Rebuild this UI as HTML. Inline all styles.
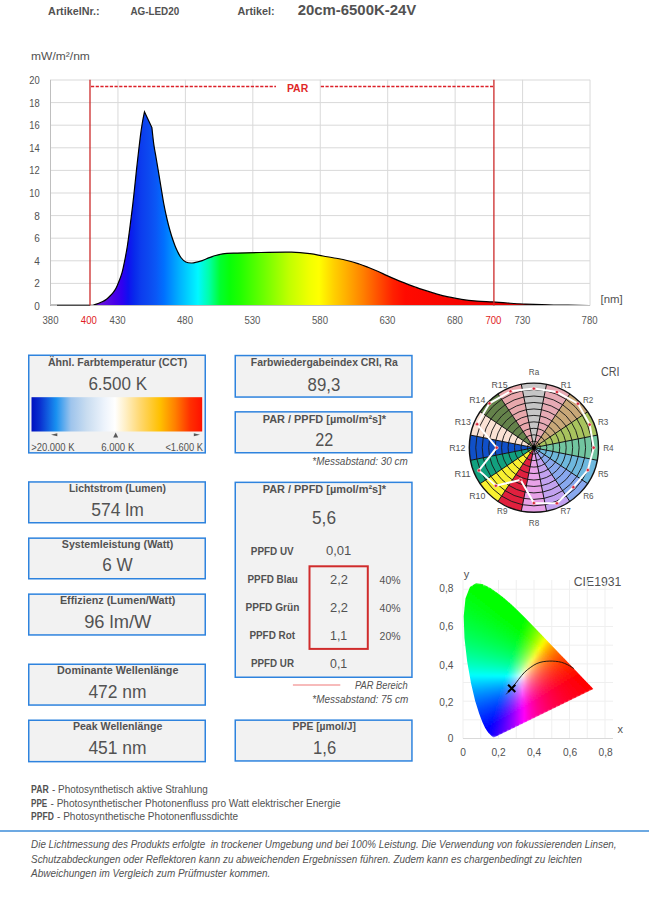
<!DOCTYPE html>
<html><head><meta charset="utf-8">
<style>
html,body{margin:0;padding:0;background:#fff;width:650px;height:898px;overflow:hidden}
body{position:relative;font-family:"Liberation Sans",sans-serif;color:#595959}
svg{position:absolute;left:0;top:0}
svg text{font-family:"Liberation Sans",sans-serif;fill:#525252}
.b{font-weight:bold}
.c{text-anchor:middle}
.r{text-anchor:end}
.i{font-style:italic}
</style></head><body>
<svg width="650" height="898" viewBox="0 0 650 898">
<defs>
<linearGradient id="spec" gradientUnits="userSpaceOnUse" x1="50.5" y1="0" x2="590" y2="0"><stop offset="0.0732" stop-color="#7a10c8"/><stop offset="0.0992" stop-color="#6010e0"/><stop offset="0.1177" stop-color="#4a00e8"/><stop offset="0.1325" stop-color="#3000f0"/><stop offset="0.1437" stop-color="#1010f0"/><stop offset="0.1548" stop-color="#0828ec"/><stop offset="0.1677" stop-color="#0c3cee"/><stop offset="0.1807" stop-color="#0c48f0"/><stop offset="0.1956" stop-color="#0a58f6"/><stop offset="0.2104" stop-color="#0070ff"/><stop offset="0.2382" stop-color="#00b0ff"/><stop offset="0.2734" stop-color="#00f8ff"/><stop offset="0.2938" stop-color="#00ffa8"/><stop offset="0.3142" stop-color="#00ff30"/><stop offset="0.3327" stop-color="#08ff08"/><stop offset="0.3513" stop-color="#20ff00"/><stop offset="0.3976" stop-color="#70ff00"/><stop offset="0.4421" stop-color="#c0ff00"/><stop offset="0.4791" stop-color="#f0ff00"/><stop offset="0.4977" stop-color="#ffff00"/><stop offset="0.5255" stop-color="#ffd000"/><stop offset="0.5477" stop-color="#ffb000"/><stop offset="0.5792" stop-color="#ff8000"/><stop offset="0.6070" stop-color="#ff5000"/><stop offset="0.6348" stop-color="#ff2000"/><stop offset="0.6571" stop-color="#ff0a00"/><stop offset="0.8146" stop-color="#f00000"/><stop offset="0.9444" stop-color="#c00000"/><stop offset="1.0000" stop-color="#800000"/></linearGradient>
<linearGradient id="cct" x1="0" y1="0" x2="1" y2="0">
<stop offset="0" stop-color="#0010c0"/><stop offset="0.05" stop-color="#0a30d0"/><stop offset="0.144" stop-color="#1890f0"/><stop offset="0.231" stop-color="#9ec4ec"/><stop offset="0.322" stop-color="#c8dcf0"/><stop offset="0.43" stop-color="#eef4fc"/><stop offset="0.489" stop-color="#ffffff"/><stop offset="0.548" stop-color="#fff0c8"/><stop offset="0.636" stop-color="#ffd870"/><stop offset="0.753" stop-color="#ffc000"/><stop offset="0.841" stop-color="#ff8000"/><stop offset="0.929" stop-color="#ff3000"/><stop offset="1" stop-color="#ff1000"/>
</linearGradient>
<filter id="cblur" x="-5%" y="-5%" width="110%" height="110%"><feGaussianBlur stdDeviation="0.4 1"/></filter>
<linearGradient id="g0" gradientUnits="userSpaceOnUse" x1="473.0" y1="0" x2="483.1" y2="0"><stop offset="0.000" stop-color="#00ff00"/><stop offset="0.333" stop-color="#00ff00"/><stop offset="0.667" stop-color="#00ff00"/><stop offset="1.000" stop-color="#00ff00"/></linearGradient><linearGradient id="g1" gradientUnits="userSpaceOnUse" x1="469.9" y1="0" x2="487.9" y2="0"><stop offset="0.000" stop-color="#00ff00"/><stop offset="0.200" stop-color="#00ff00"/><stop offset="0.400" stop-color="#00ff00"/><stop offset="0.600" stop-color="#00ff00"/><stop offset="0.800" stop-color="#00ff00"/><stop offset="1.000" stop-color="#00ff00"/></linearGradient><linearGradient id="g2" gradientUnits="userSpaceOnUse" x1="468.0" y1="0" x2="491.7" y2="0"><stop offset="0.000" stop-color="#00ff01"/><stop offset="0.167" stop-color="#00ff00"/><stop offset="0.333" stop-color="#00ff00"/><stop offset="0.500" stop-color="#00ff00"/><stop offset="0.667" stop-color="#00ff00"/><stop offset="0.833" stop-color="#00ff00"/><stop offset="1.000" stop-color="#00ff00"/></linearGradient><linearGradient id="g3" gradientUnits="userSpaceOnUse" x1="467.2" y1="0" x2="494.8" y2="0"><stop offset="0.000" stop-color="#00ff05"/><stop offset="0.143" stop-color="#00ff02"/><stop offset="0.286" stop-color="#00ff00"/><stop offset="0.429" stop-color="#00ff00"/><stop offset="0.571" stop-color="#00ff00"/><stop offset="0.714" stop-color="#00ff00"/><stop offset="0.857" stop-color="#00ff00"/><stop offset="1.000" stop-color="#00ff00"/></linearGradient><linearGradient id="g4" gradientUnits="userSpaceOnUse" x1="466.5" y1="0" x2="497.8" y2="0"><stop offset="0.000" stop-color="#00ff08"/><stop offset="0.125" stop-color="#00ff06"/><stop offset="0.250" stop-color="#00ff02"/><stop offset="0.375" stop-color="#00ff00"/><stop offset="0.500" stop-color="#00ff00"/><stop offset="0.625" stop-color="#00ff00"/><stop offset="0.750" stop-color="#00ff00"/><stop offset="0.875" stop-color="#00ff00"/><stop offset="1.000" stop-color="#00ff00"/></linearGradient><linearGradient id="g5" gradientUnits="userSpaceOnUse" x1="465.7" y1="0" x2="500.5" y2="0"><stop offset="0.000" stop-color="#00ff0b"/><stop offset="0.111" stop-color="#00ff09"/><stop offset="0.222" stop-color="#00ff05"/><stop offset="0.333" stop-color="#00ff01"/><stop offset="0.444" stop-color="#00ff00"/><stop offset="0.556" stop-color="#00ff00"/><stop offset="0.667" stop-color="#00ff00"/><stop offset="0.778" stop-color="#00ff00"/><stop offset="0.889" stop-color="#00ff00"/><stop offset="1.000" stop-color="#00ff00"/></linearGradient><linearGradient id="g6" gradientUnits="userSpaceOnUse" x1="464.9" y1="0" x2="503.0" y2="0"><stop offset="0.000" stop-color="#00ff0f"/><stop offset="0.100" stop-color="#00ff0d"/><stop offset="0.200" stop-color="#00ff09"/><stop offset="0.300" stop-color="#00ff05"/><stop offset="0.400" stop-color="#00ff01"/><stop offset="0.500" stop-color="#00ff00"/><stop offset="0.600" stop-color="#00ff00"/><stop offset="0.700" stop-color="#00ff00"/><stop offset="0.800" stop-color="#00ff00"/><stop offset="0.900" stop-color="#00ff00"/><stop offset="1.000" stop-color="#00ff00"/></linearGradient><linearGradient id="g7" gradientUnits="userSpaceOnUse" x1="464.2" y1="0" x2="505.5" y2="0"><stop offset="0.000" stop-color="#00ff12"/><stop offset="0.091" stop-color="#00ff10"/><stop offset="0.182" stop-color="#00ff0c"/><stop offset="0.273" stop-color="#00ff08"/><stop offset="0.364" stop-color="#00ff04"/><stop offset="0.455" stop-color="#00ff00"/><stop offset="0.545" stop-color="#00ff00"/><stop offset="0.636" stop-color="#00ff00"/><stop offset="0.727" stop-color="#00ff00"/><stop offset="0.818" stop-color="#00ff00"/><stop offset="0.909" stop-color="#00ff00"/><stop offset="1.000" stop-color="#00ff00"/></linearGradient><linearGradient id="g8" gradientUnits="userSpaceOnUse" x1="463.8" y1="0" x2="507.8" y2="0"><stop offset="0.000" stop-color="#00ff15"/><stop offset="0.083" stop-color="#00ff14"/><stop offset="0.167" stop-color="#00ff10"/><stop offset="0.250" stop-color="#00ff0c"/><stop offset="0.333" stop-color="#00ff08"/><stop offset="0.417" stop-color="#00ff04"/><stop offset="0.500" stop-color="#00ff00"/><stop offset="0.583" stop-color="#00ff00"/><stop offset="0.667" stop-color="#00ff00"/><stop offset="0.750" stop-color="#00ff00"/><stop offset="0.833" stop-color="#00ff00"/><stop offset="0.917" stop-color="#00ff00"/><stop offset="1.000" stop-color="#00ff00"/></linearGradient><linearGradient id="g9" gradientUnits="userSpaceOnUse" x1="463.6" y1="0" x2="510.1" y2="0"><stop offset="0.000" stop-color="#00ff19"/><stop offset="0.083" stop-color="#00ff16"/><stop offset="0.167" stop-color="#00ff12"/><stop offset="0.250" stop-color="#00ff0e"/><stop offset="0.333" stop-color="#00ff0a"/><stop offset="0.417" stop-color="#00ff06"/><stop offset="0.500" stop-color="#00ff01"/><stop offset="0.583" stop-color="#00ff00"/><stop offset="0.667" stop-color="#00ff00"/><stop offset="0.750" stop-color="#00ff00"/><stop offset="0.833" stop-color="#00ff00"/><stop offset="0.917" stop-color="#00ff00"/><stop offset="1.000" stop-color="#00ff00"/></linearGradient><linearGradient id="g10" gradientUnits="userSpaceOnUse" x1="463.4" y1="0" x2="512.4" y2="0"><stop offset="0.000" stop-color="#00ff1c"/><stop offset="0.077" stop-color="#00ff1a"/><stop offset="0.154" stop-color="#00ff16"/><stop offset="0.231" stop-color="#00ff12"/><stop offset="0.308" stop-color="#00ff0e"/><stop offset="0.385" stop-color="#00ff0a"/><stop offset="0.462" stop-color="#00ff05"/><stop offset="0.538" stop-color="#00ff01"/><stop offset="0.615" stop-color="#00ff00"/><stop offset="0.692" stop-color="#00ff00"/><stop offset="0.769" stop-color="#00ff00"/><stop offset="0.846" stop-color="#00ff00"/><stop offset="0.923" stop-color="#00ff00"/><stop offset="1.000" stop-color="#00ff00"/></linearGradient><linearGradient id="g11" gradientUnits="userSpaceOnUse" x1="463.2" y1="0" x2="514.5" y2="0"><stop offset="0.000" stop-color="#00ff1f"/><stop offset="0.077" stop-color="#00ff1d"/><stop offset="0.154" stop-color="#00ff19"/><stop offset="0.231" stop-color="#00ff15"/><stop offset="0.308" stop-color="#00ff10"/><stop offset="0.385" stop-color="#00ff0c"/><stop offset="0.462" stop-color="#00ff07"/><stop offset="0.538" stop-color="#00ff02"/><stop offset="0.615" stop-color="#00ff00"/><stop offset="0.692" stop-color="#00ff00"/><stop offset="0.769" stop-color="#00ff00"/><stop offset="0.846" stop-color="#00ff00"/><stop offset="0.923" stop-color="#00ff00"/><stop offset="1.000" stop-color="#00ff00"/></linearGradient><linearGradient id="g12" gradientUnits="userSpaceOnUse" x1="463.0" y1="0" x2="516.6" y2="0"><stop offset="0.000" stop-color="#00ff22"/><stop offset="0.071" stop-color="#00ff20"/><stop offset="0.143" stop-color="#00ff1c"/><stop offset="0.214" stop-color="#00ff18"/><stop offset="0.286" stop-color="#00ff14"/><stop offset="0.357" stop-color="#00ff10"/><stop offset="0.429" stop-color="#00ff0b"/><stop offset="0.500" stop-color="#00ff07"/><stop offset="0.571" stop-color="#00ff02"/><stop offset="0.643" stop-color="#00ff00"/><stop offset="0.714" stop-color="#00ff00"/><stop offset="0.786" stop-color="#00ff00"/><stop offset="0.857" stop-color="#00ff00"/><stop offset="0.929" stop-color="#00ff00"/><stop offset="1.000" stop-color="#00ff00"/></linearGradient><linearGradient id="g13" gradientUnits="userSpaceOnUse" x1="462.8" y1="0" x2="518.7" y2="0"><stop offset="0.000" stop-color="#00ff26"/><stop offset="0.071" stop-color="#00ff24"/><stop offset="0.143" stop-color="#00ff20"/><stop offset="0.214" stop-color="#00ff1b"/><stop offset="0.286" stop-color="#00ff17"/><stop offset="0.357" stop-color="#00ff12"/><stop offset="0.429" stop-color="#00ff0e"/><stop offset="0.500" stop-color="#00ff09"/><stop offset="0.571" stop-color="#00ff03"/><stop offset="0.643" stop-color="#00ff00"/><stop offset="0.714" stop-color="#00ff00"/><stop offset="0.786" stop-color="#00ff00"/><stop offset="0.857" stop-color="#00ff00"/><stop offset="0.929" stop-color="#00ff00"/><stop offset="1.000" stop-color="#00ff00"/></linearGradient><linearGradient id="g14" gradientUnits="userSpaceOnUse" x1="462.6" y1="0" x2="520.8" y2="0"><stop offset="0.000" stop-color="#00ff29"/><stop offset="0.067" stop-color="#00ff27"/><stop offset="0.133" stop-color="#00ff23"/><stop offset="0.200" stop-color="#00ff1f"/><stop offset="0.267" stop-color="#00ff1b"/><stop offset="0.333" stop-color="#00ff17"/><stop offset="0.400" stop-color="#00ff12"/><stop offset="0.467" stop-color="#00ff0d"/><stop offset="0.533" stop-color="#00ff08"/><stop offset="0.600" stop-color="#00ff03"/><stop offset="0.667" stop-color="#00ff00"/><stop offset="0.733" stop-color="#00ff00"/><stop offset="0.800" stop-color="#00ff00"/><stop offset="0.867" stop-color="#00ff00"/><stop offset="0.933" stop-color="#00ff00"/><stop offset="1.000" stop-color="#00ff00"/></linearGradient><linearGradient id="g15" gradientUnits="userSpaceOnUse" x1="462.4" y1="0" x2="522.8" y2="0"><stop offset="0.000" stop-color="#00ff2d"/><stop offset="0.062" stop-color="#00ff2b"/><stop offset="0.125" stop-color="#00ff27"/><stop offset="0.188" stop-color="#00ff23"/><stop offset="0.250" stop-color="#00ff1f"/><stop offset="0.312" stop-color="#00ff1b"/><stop offset="0.375" stop-color="#00ff16"/><stop offset="0.438" stop-color="#00ff12"/><stop offset="0.500" stop-color="#00ff0d"/><stop offset="0.562" stop-color="#00ff08"/><stop offset="0.625" stop-color="#00ff03"/><stop offset="0.688" stop-color="#00ff00"/><stop offset="0.750" stop-color="#00ff00"/><stop offset="0.812" stop-color="#00ff00"/><stop offset="0.875" stop-color="#00ff00"/><stop offset="0.938" stop-color="#00ff00"/><stop offset="1.000" stop-color="#00ff00"/></linearGradient><linearGradient id="g16" gradientUnits="userSpaceOnUse" x1="462.2" y1="0" x2="524.8" y2="0"><stop offset="0.000" stop-color="#00ff31"/><stop offset="0.062" stop-color="#00ff2f"/><stop offset="0.125" stop-color="#00ff2b"/><stop offset="0.188" stop-color="#00ff27"/><stop offset="0.250" stop-color="#00ff22"/><stop offset="0.312" stop-color="#00ff1e"/><stop offset="0.375" stop-color="#00ff19"/><stop offset="0.438" stop-color="#00ff14"/><stop offset="0.500" stop-color="#00ff0f"/><stop offset="0.562" stop-color="#00ff0a"/><stop offset="0.625" stop-color="#00ff05"/><stop offset="0.688" stop-color="#00ff00"/><stop offset="0.750" stop-color="#00ff00"/><stop offset="0.812" stop-color="#00ff00"/><stop offset="0.875" stop-color="#00ff00"/><stop offset="0.938" stop-color="#00ff00"/><stop offset="1.000" stop-color="#00ff00"/></linearGradient><linearGradient id="g17" gradientUnits="userSpaceOnUse" x1="462.3" y1="0" x2="526.8" y2="0"><stop offset="0.000" stop-color="#00ff35"/><stop offset="0.059" stop-color="#00ff33"/><stop offset="0.118" stop-color="#00ff2f"/><stop offset="0.176" stop-color="#00ff2b"/><stop offset="0.235" stop-color="#00ff27"/><stop offset="0.294" stop-color="#00ff22"/><stop offset="0.353" stop-color="#00ff1e"/><stop offset="0.412" stop-color="#00ff19"/><stop offset="0.471" stop-color="#00ff14"/><stop offset="0.529" stop-color="#00ff0f"/><stop offset="0.588" stop-color="#00ff0a"/><stop offset="0.647" stop-color="#00ff04"/><stop offset="0.706" stop-color="#00ff00"/><stop offset="0.765" stop-color="#00ff00"/><stop offset="0.824" stop-color="#00ff00"/><stop offset="0.882" stop-color="#00ff00"/><stop offset="0.941" stop-color="#00ff00"/><stop offset="1.000" stop-color="#06ff00"/></linearGradient><linearGradient id="g18" gradientUnits="userSpaceOnUse" x1="462.3" y1="0" x2="528.8" y2="0"><stop offset="0.000" stop-color="#00ff38"/><stop offset="0.059" stop-color="#00ff36"/><stop offset="0.118" stop-color="#00ff32"/><stop offset="0.176" stop-color="#00ff2e"/><stop offset="0.235" stop-color="#00ff2a"/><stop offset="0.294" stop-color="#00ff25"/><stop offset="0.353" stop-color="#00ff21"/><stop offset="0.412" stop-color="#00ff1c"/><stop offset="0.471" stop-color="#00ff17"/><stop offset="0.529" stop-color="#00ff11"/><stop offset="0.588" stop-color="#00ff0c"/><stop offset="0.647" stop-color="#00ff06"/><stop offset="0.706" stop-color="#00ff00"/><stop offset="0.765" stop-color="#00ff00"/><stop offset="0.824" stop-color="#00ff00"/><stop offset="0.882" stop-color="#00ff00"/><stop offset="0.941" stop-color="#09ff00"/><stop offset="1.000" stop-color="#15ff00"/></linearGradient><linearGradient id="g19" gradientUnits="userSpaceOnUse" x1="462.4" y1="0" x2="530.8" y2="0"><stop offset="0.000" stop-color="#00ff3c"/><stop offset="0.056" stop-color="#00ff3a"/><stop offset="0.111" stop-color="#00ff37"/><stop offset="0.167" stop-color="#00ff32"/><stop offset="0.222" stop-color="#00ff2e"/><stop offset="0.278" stop-color="#00ff2a"/><stop offset="0.333" stop-color="#00ff25"/><stop offset="0.389" stop-color="#00ff21"/><stop offset="0.444" stop-color="#00ff1c"/><stop offset="0.500" stop-color="#00ff17"/><stop offset="0.556" stop-color="#00ff11"/><stop offset="0.611" stop-color="#00ff0c"/><stop offset="0.667" stop-color="#00ff06"/><stop offset="0.722" stop-color="#00ff00"/><stop offset="0.778" stop-color="#00ff00"/><stop offset="0.833" stop-color="#00ff00"/><stop offset="0.889" stop-color="#02ff00"/><stop offset="0.944" stop-color="#19ff00"/><stop offset="1.000" stop-color="#26ff00"/></linearGradient><linearGradient id="g20" gradientUnits="userSpaceOnUse" x1="462.5" y1="0" x2="532.7" y2="0"><stop offset="0.000" stop-color="#00ff40"/><stop offset="0.056" stop-color="#00ff3e"/><stop offset="0.111" stop-color="#00ff3a"/><stop offset="0.167" stop-color="#00ff36"/><stop offset="0.222" stop-color="#00ff32"/><stop offset="0.278" stop-color="#00ff2d"/><stop offset="0.333" stop-color="#00ff29"/><stop offset="0.389" stop-color="#00ff24"/><stop offset="0.444" stop-color="#00ff1f"/><stop offset="0.500" stop-color="#00ff19"/><stop offset="0.556" stop-color="#00ff14"/><stop offset="0.611" stop-color="#00ff0e"/><stop offset="0.667" stop-color="#00ff08"/><stop offset="0.722" stop-color="#00ff02"/><stop offset="0.778" stop-color="#00ff00"/><stop offset="0.833" stop-color="#00ff00"/><stop offset="0.889" stop-color="#11ff00"/><stop offset="0.944" stop-color="#2aff00"/><stop offset="1.000" stop-color="#38ff00"/></linearGradient><linearGradient id="g21" gradientUnits="userSpaceOnUse" x1="462.5" y1="0" x2="534.6" y2="0"><stop offset="0.000" stop-color="#00ff45"/><stop offset="0.053" stop-color="#00ff43"/><stop offset="0.105" stop-color="#00ff3f"/><stop offset="0.158" stop-color="#00ff3b"/><stop offset="0.211" stop-color="#00ff37"/><stop offset="0.263" stop-color="#00ff32"/><stop offset="0.316" stop-color="#00ff2e"/><stop offset="0.368" stop-color="#00ff29"/><stop offset="0.421" stop-color="#00ff24"/><stop offset="0.474" stop-color="#00ff1f"/><stop offset="0.526" stop-color="#00ff1a"/><stop offset="0.579" stop-color="#00ff14"/><stop offset="0.632" stop-color="#00ff0e"/><stop offset="0.684" stop-color="#00ff08"/><stop offset="0.737" stop-color="#00ff01"/><stop offset="0.789" stop-color="#00ff00"/><stop offset="0.842" stop-color="#0bff00"/><stop offset="0.895" stop-color="#23ff00"/><stop offset="0.947" stop-color="#3dff00"/><stop offset="1.000" stop-color="#4bff00"/></linearGradient><linearGradient id="g22" gradientUnits="userSpaceOnUse" x1="462.6" y1="0" x2="536.6" y2="0"><stop offset="0.000" stop-color="#00ff49"/><stop offset="0.053" stop-color="#00ff47"/><stop offset="0.105" stop-color="#00ff43"/><stop offset="0.158" stop-color="#00ff3f"/><stop offset="0.211" stop-color="#00ff3b"/><stop offset="0.263" stop-color="#00ff36"/><stop offset="0.316" stop-color="#00ff31"/><stop offset="0.368" stop-color="#00ff2d"/><stop offset="0.421" stop-color="#00ff27"/><stop offset="0.474" stop-color="#00ff22"/><stop offset="0.526" stop-color="#00ff1d"/><stop offset="0.579" stop-color="#00ff17"/><stop offset="0.632" stop-color="#00ff11"/><stop offset="0.684" stop-color="#00ff0a"/><stop offset="0.737" stop-color="#00ff03"/><stop offset="0.789" stop-color="#01ff00"/><stop offset="0.842" stop-color="#1aff00"/><stop offset="0.895" stop-color="#34ff00"/><stop offset="0.947" stop-color="#50ff00"/><stop offset="1.000" stop-color="#60ff00"/></linearGradient><linearGradient id="g23" gradientUnits="userSpaceOnUse" x1="462.7" y1="0" x2="538.5" y2="0"><stop offset="0.000" stop-color="#00ff4d"/><stop offset="0.053" stop-color="#00ff4b"/><stop offset="0.105" stop-color="#00ff47"/><stop offset="0.158" stop-color="#00ff43"/><stop offset="0.211" stop-color="#00ff3f"/><stop offset="0.263" stop-color="#00ff3a"/><stop offset="0.316" stop-color="#00ff35"/><stop offset="0.368" stop-color="#00ff30"/><stop offset="0.421" stop-color="#00ff2b"/><stop offset="0.474" stop-color="#00ff25"/><stop offset="0.526" stop-color="#00ff20"/><stop offset="0.579" stop-color="#00ff1a"/><stop offset="0.632" stop-color="#00ff13"/><stop offset="0.684" stop-color="#00ff0c"/><stop offset="0.737" stop-color="#00ff05"/><stop offset="0.789" stop-color="#0fff00"/><stop offset="0.842" stop-color="#2aff00"/><stop offset="0.895" stop-color="#46ff00"/><stop offset="0.947" stop-color="#65ff00"/><stop offset="1.000" stop-color="#76ff00"/></linearGradient><linearGradient id="g24" gradientUnits="userSpaceOnUse" x1="462.7" y1="0" x2="540.4" y2="0"><stop offset="0.000" stop-color="#00ff52"/><stop offset="0.050" stop-color="#00ff50"/><stop offset="0.100" stop-color="#00ff4c"/><stop offset="0.150" stop-color="#00ff48"/><stop offset="0.200" stop-color="#00ff44"/><stop offset="0.250" stop-color="#00ff3f"/><stop offset="0.300" stop-color="#00ff3b"/><stop offset="0.350" stop-color="#00ff36"/><stop offset="0.400" stop-color="#00ff31"/><stop offset="0.450" stop-color="#00ff2c"/><stop offset="0.500" stop-color="#00ff26"/><stop offset="0.550" stop-color="#00ff20"/><stop offset="0.600" stop-color="#00ff1a"/><stop offset="0.650" stop-color="#00ff13"/><stop offset="0.700" stop-color="#00ff0c"/><stop offset="0.750" stop-color="#09ff05"/><stop offset="0.800" stop-color="#24ff00"/><stop offset="0.850" stop-color="#40ff00"/><stop offset="0.900" stop-color="#5dff00"/><stop offset="0.950" stop-color="#7dff00"/><stop offset="1.000" stop-color="#8fff00"/></linearGradient><linearGradient id="g25" gradientUnits="userSpaceOnUse" x1="462.8" y1="0" x2="542.4" y2="0"><stop offset="0.000" stop-color="#00ff57"/><stop offset="0.050" stop-color="#00ff55"/><stop offset="0.100" stop-color="#00ff51"/><stop offset="0.150" stop-color="#00ff4d"/><stop offset="0.200" stop-color="#00ff48"/><stop offset="0.250" stop-color="#00ff44"/><stop offset="0.300" stop-color="#00ff3f"/><stop offset="0.350" stop-color="#00ff3a"/><stop offset="0.400" stop-color="#00ff35"/><stop offset="0.450" stop-color="#00ff2f"/><stop offset="0.500" stop-color="#00ff2a"/><stop offset="0.550" stop-color="#00ff23"/><stop offset="0.600" stop-color="#00ff1d"/><stop offset="0.650" stop-color="#00ff16"/><stop offset="0.700" stop-color="#00ff0f"/><stop offset="0.750" stop-color="#18ff07"/><stop offset="0.800" stop-color="#34ff00"/><stop offset="0.850" stop-color="#53ff00"/><stop offset="0.900" stop-color="#73ff00"/><stop offset="0.950" stop-color="#96ff00"/><stop offset="1.000" stop-color="#aaff00"/></linearGradient><linearGradient id="g26" gradientUnits="userSpaceOnUse" x1="462.9" y1="0" x2="544.3" y2="0"><stop offset="0.000" stop-color="#00ff5c"/><stop offset="0.048" stop-color="#00ff5a"/><stop offset="0.095" stop-color="#00ff56"/><stop offset="0.143" stop-color="#00ff52"/><stop offset="0.190" stop-color="#00ff4e"/><stop offset="0.238" stop-color="#00ff4a"/><stop offset="0.286" stop-color="#00ff45"/><stop offset="0.333" stop-color="#00ff40"/><stop offset="0.381" stop-color="#00ff3b"/><stop offset="0.429" stop-color="#00ff36"/><stop offset="0.476" stop-color="#00ff30"/><stop offset="0.524" stop-color="#00ff2a"/><stop offset="0.571" stop-color="#00ff24"/><stop offset="0.619" stop-color="#00ff1e"/><stop offset="0.667" stop-color="#00ff17"/><stop offset="0.714" stop-color="#12ff0f"/><stop offset="0.762" stop-color="#2eff08"/><stop offset="0.810" stop-color="#4cff00"/><stop offset="0.857" stop-color="#6cff00"/><stop offset="0.905" stop-color="#8fff00"/><stop offset="0.952" stop-color="#b3ff00"/><stop offset="1.000" stop-color="#c8ff00"/></linearGradient><linearGradient id="g27" gradientUnits="userSpaceOnUse" x1="463.0" y1="0" x2="546.2" y2="0"><stop offset="0.000" stop-color="#00ff61"/><stop offset="0.048" stop-color="#00ff5f"/><stop offset="0.095" stop-color="#00ff5b"/><stop offset="0.143" stop-color="#00ff57"/><stop offset="0.190" stop-color="#00ff53"/><stop offset="0.238" stop-color="#00ff4e"/><stop offset="0.286" stop-color="#00ff4a"/><stop offset="0.333" stop-color="#00ff45"/><stop offset="0.381" stop-color="#00ff40"/><stop offset="0.429" stop-color="#00ff3a"/><stop offset="0.476" stop-color="#00ff34"/><stop offset="0.524" stop-color="#00ff2e"/><stop offset="0.571" stop-color="#00ff28"/><stop offset="0.619" stop-color="#00ff21"/><stop offset="0.667" stop-color="#05ff1a"/><stop offset="0.714" stop-color="#21ff12"/><stop offset="0.762" stop-color="#40ff0a"/><stop offset="0.810" stop-color="#61ff01"/><stop offset="0.857" stop-color="#83ff00"/><stop offset="0.905" stop-color="#a9ff00"/><stop offset="0.952" stop-color="#d1ff00"/><stop offset="1.000" stop-color="#e9ff00"/></linearGradient><linearGradient id="g28" gradientUnits="userSpaceOnUse" x1="463.2" y1="0" x2="548.1" y2="0"><stop offset="0.000" stop-color="#00ff67"/><stop offset="0.045" stop-color="#00ff65"/><stop offset="0.091" stop-color="#00ff61"/><stop offset="0.136" stop-color="#00ff5d"/><stop offset="0.182" stop-color="#00ff59"/><stop offset="0.227" stop-color="#00ff55"/><stop offset="0.273" stop-color="#00ff50"/><stop offset="0.318" stop-color="#00ff4b"/><stop offset="0.364" stop-color="#00ff46"/><stop offset="0.409" stop-color="#00ff41"/><stop offset="0.455" stop-color="#00ff3c"/><stop offset="0.500" stop-color="#00ff36"/><stop offset="0.545" stop-color="#00ff2f"/><stop offset="0.591" stop-color="#00ff29"/><stop offset="0.636" stop-color="#01ff22"/><stop offset="0.682" stop-color="#1dff1b"/><stop offset="0.727" stop-color="#3bff13"/><stop offset="0.773" stop-color="#5bff0a"/><stop offset="0.818" stop-color="#7dff01"/><stop offset="0.864" stop-color="#a2ff00"/><stop offset="0.909" stop-color="#caff00"/><stop offset="0.955" stop-color="#f5ff00"/><stop offset="1.000" stop-color="#fff200"/></linearGradient><linearGradient id="g29" gradientUnits="userSpaceOnUse" x1="463.4" y1="0" x2="550.0" y2="0"><stop offset="0.000" stop-color="#00ff6c"/><stop offset="0.045" stop-color="#00ff6a"/><stop offset="0.091" stop-color="#00ff66"/><stop offset="0.136" stop-color="#00ff62"/><stop offset="0.182" stop-color="#00ff5e"/><stop offset="0.227" stop-color="#00ff5a"/><stop offset="0.273" stop-color="#00ff55"/><stop offset="0.318" stop-color="#00ff50"/><stop offset="0.364" stop-color="#00ff4b"/><stop offset="0.409" stop-color="#00ff46"/><stop offset="0.455" stop-color="#00ff40"/><stop offset="0.500" stop-color="#00ff3a"/><stop offset="0.545" stop-color="#00ff34"/><stop offset="0.591" stop-color="#00ff2d"/><stop offset="0.636" stop-color="#0fff26"/><stop offset="0.682" stop-color="#2dff1e"/><stop offset="0.727" stop-color="#4eff16"/><stop offset="0.773" stop-color="#71ff0d"/><stop offset="0.818" stop-color="#96ff03"/><stop offset="0.864" stop-color="#bfff00"/><stop offset="0.909" stop-color="#ebff00"/><stop offset="0.955" stop-color="#ffe600"/><stop offset="1.000" stop-color="#ffd200"/></linearGradient><linearGradient id="g30" gradientUnits="userSpaceOnUse" x1="463.6" y1="0" x2="551.9" y2="0"><stop offset="0.000" stop-color="#00ff72"/><stop offset="0.043" stop-color="#00ff70"/><stop offset="0.087" stop-color="#00ff6c"/><stop offset="0.130" stop-color="#00ff69"/><stop offset="0.174" stop-color="#00ff65"/><stop offset="0.217" stop-color="#00ff60"/><stop offset="0.261" stop-color="#00ff5c"/><stop offset="0.304" stop-color="#00ff57"/><stop offset="0.348" stop-color="#00ff52"/><stop offset="0.391" stop-color="#00ff4d"/><stop offset="0.435" stop-color="#00ff48"/><stop offset="0.478" stop-color="#00ff42"/><stop offset="0.522" stop-color="#00ff3c"/><stop offset="0.565" stop-color="#00ff35"/><stop offset="0.609" stop-color="#0bff2e"/><stop offset="0.652" stop-color="#29ff27"/><stop offset="0.696" stop-color="#4aff1f"/><stop offset="0.739" stop-color="#6cff17"/><stop offset="0.783" stop-color="#91ff0e"/><stop offset="0.826" stop-color="#b9ff04"/><stop offset="0.870" stop-color="#e5ff00"/><stop offset="0.913" stop-color="#ffec00"/><stop offset="0.957" stop-color="#ffc700"/><stop offset="1.000" stop-color="#ffb700"/></linearGradient><linearGradient id="g31" gradientUnits="userSpaceOnUse" x1="463.9" y1="0" x2="553.8" y2="0"><stop offset="0.000" stop-color="#00ff78"/><stop offset="0.043" stop-color="#00ff76"/><stop offset="0.087" stop-color="#00ff72"/><stop offset="0.130" stop-color="#00ff6e"/><stop offset="0.174" stop-color="#00ff6a"/><stop offset="0.217" stop-color="#00ff66"/><stop offset="0.261" stop-color="#00ff62"/><stop offset="0.304" stop-color="#00ff5d"/><stop offset="0.348" stop-color="#00ff58"/><stop offset="0.391" stop-color="#00ff53"/><stop offset="0.435" stop-color="#00ff4d"/><stop offset="0.478" stop-color="#00ff47"/><stop offset="0.522" stop-color="#00ff41"/><stop offset="0.565" stop-color="#00ff3a"/><stop offset="0.609" stop-color="#1aff33"/><stop offset="0.652" stop-color="#3bff2b"/><stop offset="0.696" stop-color="#5eff23"/><stop offset="0.739" stop-color="#84ff1a"/><stop offset="0.783" stop-color="#adff11"/><stop offset="0.826" stop-color="#d9ff06"/><stop offset="0.870" stop-color="#fff600"/><stop offset="0.913" stop-color="#ffcd00"/><stop offset="0.957" stop-color="#ffae00"/><stop offset="1.000" stop-color="#ffa000"/></linearGradient><linearGradient id="g32" gradientUnits="userSpaceOnUse" x1="464.1" y1="0" x2="555.8" y2="0"><stop offset="0.000" stop-color="#00ff7e"/><stop offset="0.043" stop-color="#00ff7c"/><stop offset="0.087" stop-color="#00ff79"/><stop offset="0.130" stop-color="#00ff75"/><stop offset="0.174" stop-color="#00ff71"/><stop offset="0.217" stop-color="#00ff6c"/><stop offset="0.261" stop-color="#00ff68"/><stop offset="0.304" stop-color="#00ff63"/><stop offset="0.348" stop-color="#00ff5e"/><stop offset="0.391" stop-color="#00ff59"/><stop offset="0.435" stop-color="#00ff53"/><stop offset="0.478" stop-color="#00ff4d"/><stop offset="0.522" stop-color="#00ff46"/><stop offset="0.565" stop-color="#0aff40"/><stop offset="0.609" stop-color="#2bff38"/><stop offset="0.652" stop-color="#4eff30"/><stop offset="0.696" stop-color="#74ff27"/><stop offset="0.739" stop-color="#9eff1e"/><stop offset="0.783" stop-color="#cbff14"/><stop offset="0.826" stop-color="#fcff09"/><stop offset="0.870" stop-color="#ffd500"/><stop offset="0.913" stop-color="#ffb300"/><stop offset="0.957" stop-color="#ff9800"/><stop offset="1.000" stop-color="#ff8b00"/></linearGradient><linearGradient id="g33" gradientUnits="userSpaceOnUse" x1="464.3" y1="0" x2="557.7" y2="0"><stop offset="0.000" stop-color="#00ff85"/><stop offset="0.042" stop-color="#00ff83"/><stop offset="0.083" stop-color="#00ff7f"/><stop offset="0.125" stop-color="#00ff7c"/><stop offset="0.167" stop-color="#00ff78"/><stop offset="0.208" stop-color="#00ff74"/><stop offset="0.250" stop-color="#00ff70"/><stop offset="0.292" stop-color="#00ff6b"/><stop offset="0.333" stop-color="#00ff66"/><stop offset="0.375" stop-color="#00ff61"/><stop offset="0.417" stop-color="#00ff5c"/><stop offset="0.458" stop-color="#00ff56"/><stop offset="0.500" stop-color="#00ff50"/><stop offset="0.542" stop-color="#07ff49"/><stop offset="0.583" stop-color="#28ff42"/><stop offset="0.625" stop-color="#4bff3b"/><stop offset="0.667" stop-color="#71ff32"/><stop offset="0.708" stop-color="#9aff29"/><stop offset="0.750" stop-color="#c7ff20"/><stop offset="0.792" stop-color="#f7ff15"/><stop offset="0.833" stop-color="#ffd908"/><stop offset="0.875" stop-color="#ffb500"/><stop offset="0.917" stop-color="#ff9a00"/><stop offset="0.958" stop-color="#ff8400"/><stop offset="1.000" stop-color="#ff7900"/></linearGradient><linearGradient id="g34" gradientUnits="userSpaceOnUse" x1="464.6" y1="0" x2="559.6" y2="0"><stop offset="0.000" stop-color="#00ff8c"/><stop offset="0.042" stop-color="#00ff8a"/><stop offset="0.083" stop-color="#00ff86"/><stop offset="0.125" stop-color="#00ff83"/><stop offset="0.167" stop-color="#00ff7f"/><stop offset="0.208" stop-color="#00ff7b"/><stop offset="0.250" stop-color="#00ff77"/><stop offset="0.292" stop-color="#00ff72"/><stop offset="0.333" stop-color="#00ff6d"/><stop offset="0.375" stop-color="#00ff68"/><stop offset="0.417" stop-color="#00ff63"/><stop offset="0.458" stop-color="#00ff5d"/><stop offset="0.500" stop-color="#00ff56"/><stop offset="0.542" stop-color="#16ff50"/><stop offset="0.583" stop-color="#3aff48"/><stop offset="0.625" stop-color="#60ff40"/><stop offset="0.667" stop-color="#89ff38"/><stop offset="0.708" stop-color="#b7ff2f"/><stop offset="0.750" stop-color="#e8ff24"/><stop offset="0.792" stop-color="#ffe317"/><stop offset="0.833" stop-color="#ffbc0a"/><stop offset="0.875" stop-color="#ff9e00"/><stop offset="0.917" stop-color="#ff8600"/><stop offset="0.958" stop-color="#ff7300"/><stop offset="1.000" stop-color="#ff6a00"/></linearGradient><linearGradient id="g35" gradientUnits="userSpaceOnUse" x1="464.8" y1="0" x2="561.5" y2="0"><stop offset="0.000" stop-color="#00ff93"/><stop offset="0.040" stop-color="#00ff91"/><stop offset="0.080" stop-color="#00ff8e"/><stop offset="0.120" stop-color="#00ff8b"/><stop offset="0.160" stop-color="#00ff87"/><stop offset="0.200" stop-color="#00ff83"/><stop offset="0.240" stop-color="#00ff7f"/><stop offset="0.280" stop-color="#00ff7b"/><stop offset="0.320" stop-color="#00ff76"/><stop offset="0.360" stop-color="#00ff71"/><stop offset="0.400" stop-color="#00ff6c"/><stop offset="0.440" stop-color="#00ff67"/><stop offset="0.480" stop-color="#00ff61"/><stop offset="0.520" stop-color="#14ff5a"/><stop offset="0.560" stop-color="#37ff53"/><stop offset="0.600" stop-color="#5dff4c"/><stop offset="0.640" stop-color="#87ff44"/><stop offset="0.680" stop-color="#b4ff3b"/><stop offset="0.720" stop-color="#e5ff31"/><stop offset="0.760" stop-color="#ffe523"/><stop offset="0.800" stop-color="#ffbe14"/><stop offset="0.840" stop-color="#ff9f09"/><stop offset="0.880" stop-color="#ff8700"/><stop offset="0.920" stop-color="#ff7300"/><stop offset="0.960" stop-color="#ff6300"/><stop offset="1.000" stop-color="#ff5b00"/></linearGradient><linearGradient id="g36" gradientUnits="userSpaceOnUse" x1="465.0" y1="0" x2="563.4" y2="0"><stop offset="0.000" stop-color="#00ff9a"/><stop offset="0.040" stop-color="#00ff99"/><stop offset="0.080" stop-color="#00ff96"/><stop offset="0.120" stop-color="#00ff92"/><stop offset="0.160" stop-color="#00ff8f"/><stop offset="0.200" stop-color="#00ff8b"/><stop offset="0.240" stop-color="#00ff87"/><stop offset="0.280" stop-color="#00ff83"/><stop offset="0.320" stop-color="#00ff7e"/><stop offset="0.360" stop-color="#00ff79"/><stop offset="0.400" stop-color="#00ff74"/><stop offset="0.440" stop-color="#00ff6e"/><stop offset="0.480" stop-color="#01ff68"/><stop offset="0.520" stop-color="#24ff62"/><stop offset="0.560" stop-color="#4bff5b"/><stop offset="0.600" stop-color="#75ff53"/><stop offset="0.640" stop-color="#a2ff4b"/><stop offset="0.680" stop-color="#d4ff42"/><stop offset="0.720" stop-color="#fff335"/><stop offset="0.760" stop-color="#ffc623"/><stop offset="0.800" stop-color="#ffa515"/><stop offset="0.840" stop-color="#ff8a0a"/><stop offset="0.880" stop-color="#ff7501"/><stop offset="0.920" stop-color="#ff6400"/><stop offset="0.960" stop-color="#ff5600"/><stop offset="1.000" stop-color="#ff4f00"/></linearGradient><linearGradient id="g37" gradientUnits="userSpaceOnUse" x1="465.3" y1="0" x2="565.3" y2="0"><stop offset="0.000" stop-color="#00ffa2"/><stop offset="0.038" stop-color="#00ffa1"/><stop offset="0.077" stop-color="#00ff9e"/><stop offset="0.115" stop-color="#00ff9b"/><stop offset="0.154" stop-color="#00ff98"/><stop offset="0.192" stop-color="#00ff94"/><stop offset="0.231" stop-color="#00ff90"/><stop offset="0.269" stop-color="#00ff8c"/><stop offset="0.308" stop-color="#00ff88"/><stop offset="0.346" stop-color="#00ff84"/><stop offset="0.385" stop-color="#00ff7f"/><stop offset="0.423" stop-color="#00ff79"/><stop offset="0.462" stop-color="#00ff74"/><stop offset="0.500" stop-color="#23ff6e"/><stop offset="0.538" stop-color="#49ff67"/><stop offset="0.577" stop-color="#73ff60"/><stop offset="0.615" stop-color="#a1ff58"/><stop offset="0.654" stop-color="#d3ff50"/><stop offset="0.692" stop-color="#fff443"/><stop offset="0.731" stop-color="#ffc62f"/><stop offset="0.769" stop-color="#ffa41f"/><stop offset="0.808" stop-color="#ff8a13"/><stop offset="0.846" stop-color="#ff750a"/><stop offset="0.885" stop-color="#ff6402"/><stop offset="0.923" stop-color="#ff5500"/><stop offset="0.962" stop-color="#ff4900"/><stop offset="1.000" stop-color="#ff4300"/></linearGradient><linearGradient id="g38" gradientUnits="userSpaceOnUse" x1="465.5" y1="0" x2="567.2" y2="0"><stop offset="0.000" stop-color="#00ffab"/><stop offset="0.038" stop-color="#00ffa9"/><stop offset="0.077" stop-color="#00ffa7"/><stop offset="0.115" stop-color="#00ffa4"/><stop offset="0.154" stop-color="#00ffa0"/><stop offset="0.192" stop-color="#00ff9d"/><stop offset="0.231" stop-color="#00ff99"/><stop offset="0.269" stop-color="#00ff95"/><stop offset="0.308" stop-color="#00ff91"/><stop offset="0.346" stop-color="#00ff8d"/><stop offset="0.385" stop-color="#00ff88"/><stop offset="0.423" stop-color="#00ff83"/><stop offset="0.462" stop-color="#0eff7d"/><stop offset="0.500" stop-color="#35ff77"/><stop offset="0.538" stop-color="#5fff70"/><stop offset="0.577" stop-color="#8dff69"/><stop offset="0.615" stop-color="#c0ff61"/><stop offset="0.654" stop-color="#f8ff58"/><stop offset="0.692" stop-color="#ffd241"/><stop offset="0.731" stop-color="#ffac2e"/><stop offset="0.769" stop-color="#ff8f1f"/><stop offset="0.808" stop-color="#ff7814"/><stop offset="0.846" stop-color="#ff650a"/><stop offset="0.885" stop-color="#ff5603"/><stop offset="0.923" stop-color="#ff4900"/><stop offset="0.962" stop-color="#ff3e00"/><stop offset="1.000" stop-color="#ff3900"/></linearGradient><linearGradient id="g39" gradientUnits="userSpaceOnUse" x1="465.8" y1="0" x2="569.1" y2="0"><stop offset="0.000" stop-color="#00ffb4"/><stop offset="0.038" stop-color="#00ffb2"/><stop offset="0.077" stop-color="#00ffb0"/><stop offset="0.115" stop-color="#00ffad"/><stop offset="0.154" stop-color="#00ffaa"/><stop offset="0.192" stop-color="#00ffa6"/><stop offset="0.231" stop-color="#00ffa3"/><stop offset="0.269" stop-color="#00ff9f"/><stop offset="0.308" stop-color="#00ff9b"/><stop offset="0.346" stop-color="#00ff97"/><stop offset="0.385" stop-color="#00ff92"/><stop offset="0.423" stop-color="#00ff8d"/><stop offset="0.462" stop-color="#1fff87"/><stop offset="0.500" stop-color="#49ff81"/><stop offset="0.538" stop-color="#78ff7b"/><stop offset="0.577" stop-color="#aaff73"/><stop offset="0.615" stop-color="#e3ff6b"/><stop offset="0.654" stop-color="#ffe157"/><stop offset="0.692" stop-color="#ffb53f"/><stop offset="0.731" stop-color="#ff942d"/><stop offset="0.769" stop-color="#ff7b1f"/><stop offset="0.808" stop-color="#ff6714"/><stop offset="0.846" stop-color="#ff570b"/><stop offset="0.885" stop-color="#ff4904"/><stop offset="0.923" stop-color="#ff3e00"/><stop offset="0.962" stop-color="#ff3400"/><stop offset="1.000" stop-color="#ff2f00"/></linearGradient><linearGradient id="g40" gradientUnits="userSpaceOnUse" x1="466.1" y1="0" x2="571.0" y2="0"><stop offset="0.000" stop-color="#00ffbd"/><stop offset="0.037" stop-color="#00ffbc"/><stop offset="0.074" stop-color="#00ffb9"/><stop offset="0.111" stop-color="#00ffb7"/><stop offset="0.148" stop-color="#00ffb4"/><stop offset="0.185" stop-color="#00ffb1"/><stop offset="0.222" stop-color="#00ffae"/><stop offset="0.259" stop-color="#00ffab"/><stop offset="0.296" stop-color="#00ffa7"/><stop offset="0.333" stop-color="#00ffa3"/><stop offset="0.370" stop-color="#00ff9f"/><stop offset="0.407" stop-color="#00ff9a"/><stop offset="0.444" stop-color="#1fff95"/><stop offset="0.481" stop-color="#4aff90"/><stop offset="0.519" stop-color="#78ff8a"/><stop offset="0.556" stop-color="#acff83"/><stop offset="0.593" stop-color="#e5ff7c"/><stop offset="0.630" stop-color="#ffdf65"/><stop offset="0.667" stop-color="#ffb34b"/><stop offset="0.704" stop-color="#ff9337"/><stop offset="0.741" stop-color="#ff7a28"/><stop offset="0.778" stop-color="#ff661c"/><stop offset="0.815" stop-color="#ff5613"/><stop offset="0.852" stop-color="#ff480b"/><stop offset="0.889" stop-color="#ff3d04"/><stop offset="0.926" stop-color="#ff3300"/><stop offset="0.963" stop-color="#ff2b00"/><stop offset="1.000" stop-color="#ff2700"/></linearGradient><linearGradient id="g41" gradientUnits="userSpaceOnUse" x1="466.5" y1="0" x2="572.9" y2="0"><stop offset="0.000" stop-color="#00ffc7"/><stop offset="0.037" stop-color="#00ffc6"/><stop offset="0.074" stop-color="#00ffc4"/><stop offset="0.111" stop-color="#00ffc1"/><stop offset="0.148" stop-color="#00ffbf"/><stop offset="0.185" stop-color="#00ffbc"/><stop offset="0.222" stop-color="#00ffb9"/><stop offset="0.259" stop-color="#00ffb6"/><stop offset="0.296" stop-color="#00ffb2"/><stop offset="0.333" stop-color="#00ffaf"/><stop offset="0.370" stop-color="#00ffab"/><stop offset="0.407" stop-color="#08ffa6"/><stop offset="0.444" stop-color="#33ffa2"/><stop offset="0.481" stop-color="#61ff9c"/><stop offset="0.519" stop-color="#95ff97"/><stop offset="0.556" stop-color="#ceff90"/><stop offset="0.593" stop-color="#fff181"/><stop offset="0.630" stop-color="#ffbe60"/><stop offset="0.667" stop-color="#ff9a48"/><stop offset="0.704" stop-color="#ff7e36"/><stop offset="0.741" stop-color="#ff6928"/><stop offset="0.778" stop-color="#ff571d"/><stop offset="0.815" stop-color="#ff4913"/><stop offset="0.852" stop-color="#ff3d0b"/><stop offset="0.889" stop-color="#ff3305"/><stop offset="0.926" stop-color="#ff2a00"/><stop offset="0.963" stop-color="#ff2300"/><stop offset="1.000" stop-color="#ff1f00"/></linearGradient><linearGradient id="g42" gradientUnits="userSpaceOnUse" x1="466.8" y1="0" x2="574.8" y2="0"><stop offset="0.000" stop-color="#00ffd2"/><stop offset="0.036" stop-color="#00ffd1"/><stop offset="0.071" stop-color="#00ffcf"/><stop offset="0.107" stop-color="#00ffcd"/><stop offset="0.143" stop-color="#00ffca"/><stop offset="0.179" stop-color="#00ffc8"/><stop offset="0.214" stop-color="#00ffc6"/><stop offset="0.250" stop-color="#00ffc3"/><stop offset="0.286" stop-color="#00ffc0"/><stop offset="0.321" stop-color="#00ffbd"/><stop offset="0.357" stop-color="#00ffb9"/><stop offset="0.393" stop-color="#09ffb6"/><stop offset="0.429" stop-color="#34ffb1"/><stop offset="0.464" stop-color="#63ffad"/><stop offset="0.500" stop-color="#98ffa8"/><stop offset="0.536" stop-color="#d2ffa2"/><stop offset="0.571" stop-color="#ffed91"/><stop offset="0.607" stop-color="#ffbb6d"/><stop offset="0.643" stop-color="#ff9753"/><stop offset="0.679" stop-color="#ff7c40"/><stop offset="0.714" stop-color="#ff6631"/><stop offset="0.750" stop-color="#ff5525"/><stop offset="0.786" stop-color="#ff471a"/><stop offset="0.821" stop-color="#ff3b12"/><stop offset="0.857" stop-color="#ff310b"/><stop offset="0.893" stop-color="#ff2905"/><stop offset="0.929" stop-color="#ff2100"/><stop offset="0.964" stop-color="#ff1b00"/><stop offset="1.000" stop-color="#ff1800"/></linearGradient><linearGradient id="g43" gradientUnits="userSpaceOnUse" x1="467.2" y1="0" x2="576.8" y2="0"><stop offset="0.000" stop-color="#00ffdd"/><stop offset="0.036" stop-color="#00ffdc"/><stop offset="0.071" stop-color="#00ffda"/><stop offset="0.107" stop-color="#00ffd9"/><stop offset="0.143" stop-color="#00ffd7"/><stop offset="0.179" stop-color="#00ffd5"/><stop offset="0.214" stop-color="#00ffd2"/><stop offset="0.250" stop-color="#00ffd0"/><stop offset="0.286" stop-color="#00ffce"/><stop offset="0.321" stop-color="#00ffcb"/><stop offset="0.357" stop-color="#00ffc8"/><stop offset="0.393" stop-color="#1bffc4"/><stop offset="0.429" stop-color="#4affc1"/><stop offset="0.464" stop-color="#7effbd"/><stop offset="0.500" stop-color="#b9ffb8"/><stop offset="0.536" stop-color="#faffb3"/><stop offset="0.571" stop-color="#ffc989"/><stop offset="0.607" stop-color="#ff9f68"/><stop offset="0.643" stop-color="#ff8151"/><stop offset="0.679" stop-color="#ff6a3e"/><stop offset="0.714" stop-color="#ff5730"/><stop offset="0.750" stop-color="#ff4824"/><stop offset="0.786" stop-color="#ff3b1b"/><stop offset="0.821" stop-color="#ff3112"/><stop offset="0.857" stop-color="#ff280b"/><stop offset="0.893" stop-color="#ff2005"/><stop offset="0.929" stop-color="#ff1a00"/><stop offset="0.964" stop-color="#ff1400"/><stop offset="1.000" stop-color="#ff1100"/></linearGradient><linearGradient id="g44" gradientUnits="userSpaceOnUse" x1="467.5" y1="0" x2="578.7" y2="0"><stop offset="0.000" stop-color="#00ffe9"/><stop offset="0.036" stop-color="#00ffe8"/><stop offset="0.071" stop-color="#00ffe7"/><stop offset="0.107" stop-color="#00ffe5"/><stop offset="0.143" stop-color="#00ffe4"/><stop offset="0.179" stop-color="#00ffe2"/><stop offset="0.214" stop-color="#00ffe1"/><stop offset="0.250" stop-color="#00ffdf"/><stop offset="0.286" stop-color="#00ffdd"/><stop offset="0.321" stop-color="#00ffda"/><stop offset="0.357" stop-color="#00ffd8"/><stop offset="0.393" stop-color="#2fffd5"/><stop offset="0.429" stop-color="#63ffd2"/><stop offset="0.464" stop-color="#9dffcf"/><stop offset="0.500" stop-color="#dfffcb"/><stop offset="0.536" stop-color="#ffdbab"/><stop offset="0.571" stop-color="#ffaa81"/><stop offset="0.607" stop-color="#ff8864"/><stop offset="0.643" stop-color="#ff6e4e"/><stop offset="0.679" stop-color="#ff593d"/><stop offset="0.714" stop-color="#ff492f"/><stop offset="0.750" stop-color="#ff3c24"/><stop offset="0.786" stop-color="#ff311b"/><stop offset="0.821" stop-color="#ff2813"/><stop offset="0.857" stop-color="#ff200c"/><stop offset="0.893" stop-color="#ff1906"/><stop offset="0.929" stop-color="#ff1301"/><stop offset="0.964" stop-color="#ff0d00"/><stop offset="1.000" stop-color="#ff0a00"/></linearGradient><linearGradient id="g45" gradientUnits="userSpaceOnUse" x1="467.9" y1="0" x2="580.6" y2="0"><stop offset="0.000" stop-color="#00fff5"/><stop offset="0.034" stop-color="#00fff5"/><stop offset="0.069" stop-color="#00fff4"/><stop offset="0.103" stop-color="#00fff3"/><stop offset="0.138" stop-color="#00fff2"/><stop offset="0.172" stop-color="#00fff1"/><stop offset="0.207" stop-color="#00fff0"/><stop offset="0.241" stop-color="#00ffef"/><stop offset="0.276" stop-color="#00ffee"/><stop offset="0.310" stop-color="#00ffec"/><stop offset="0.345" stop-color="#02ffea"/><stop offset="0.379" stop-color="#32ffe9"/><stop offset="0.414" stop-color="#67ffe7"/><stop offset="0.448" stop-color="#a3ffe4"/><stop offset="0.483" stop-color="#e6ffe2"/><stop offset="0.517" stop-color="#ffd4ba"/><stop offset="0.552" stop-color="#ffa58e"/><stop offset="0.586" stop-color="#ff836f"/><stop offset="0.621" stop-color="#ff6a58"/><stop offset="0.655" stop-color="#ff5646"/><stop offset="0.690" stop-color="#ff4637"/><stop offset="0.724" stop-color="#ff392b"/><stop offset="0.759" stop-color="#ff2f21"/><stop offset="0.793" stop-color="#ff2519"/><stop offset="0.828" stop-color="#ff1e12"/><stop offset="0.862" stop-color="#ff170b"/><stop offset="0.897" stop-color="#ff1106"/><stop offset="0.931" stop-color="#ff0c01"/><stop offset="0.966" stop-color="#ff0700"/><stop offset="1.000" stop-color="#ff0500"/></linearGradient><linearGradient id="g46" gradientUnits="userSpaceOnUse" x1="468.2" y1="0" x2="582.5" y2="0"><stop offset="0.000" stop-color="#00fbff"/><stop offset="0.034" stop-color="#00fbff"/><stop offset="0.069" stop-color="#00fcff"/><stop offset="0.103" stop-color="#00fcff"/><stop offset="0.138" stop-color="#00fcff"/><stop offset="0.172" stop-color="#00fdff"/><stop offset="0.207" stop-color="#00fdff"/><stop offset="0.241" stop-color="#00feff"/><stop offset="0.276" stop-color="#00feff"/><stop offset="0.310" stop-color="#00ffff"/><stop offset="0.345" stop-color="#15fffe"/><stop offset="0.379" stop-color="#4afffe"/><stop offset="0.414" stop-color="#85fffd"/><stop offset="0.448" stop-color="#c8fffc"/><stop offset="0.483" stop-color="#ffebe7"/><stop offset="0.517" stop-color="#ffb3af"/><stop offset="0.552" stop-color="#ff8c88"/><stop offset="0.586" stop-color="#ff6f6b"/><stop offset="0.621" stop-color="#ff5955"/><stop offset="0.655" stop-color="#ff4844"/><stop offset="0.690" stop-color="#ff3a36"/><stop offset="0.724" stop-color="#ff2f2b"/><stop offset="0.759" stop-color="#ff2521"/><stop offset="0.793" stop-color="#ff1d19"/><stop offset="0.828" stop-color="#ff1612"/><stop offset="0.862" stop-color="#ff100c"/><stop offset="0.897" stop-color="#ff0a07"/><stop offset="0.931" stop-color="#ff0602"/><stop offset="0.966" stop-color="#ff0100"/><stop offset="1.000" stop-color="#ff0000"/></linearGradient><linearGradient id="g47" gradientUnits="userSpaceOnUse" x1="468.6" y1="0" x2="584.4" y2="0"><stop offset="0.000" stop-color="#00eeff"/><stop offset="0.034" stop-color="#00eeff"/><stop offset="0.069" stop-color="#00edff"/><stop offset="0.103" stop-color="#00edff"/><stop offset="0.138" stop-color="#00edff"/><stop offset="0.172" stop-color="#00edff"/><stop offset="0.207" stop-color="#00ecff"/><stop offset="0.241" stop-color="#00ecff"/><stop offset="0.276" stop-color="#00ecff"/><stop offset="0.310" stop-color="#00ebff"/><stop offset="0.345" stop-color="#27ebff"/><stop offset="0.379" stop-color="#5deaff"/><stop offset="0.414" stop-color="#99eaff"/><stop offset="0.448" stop-color="#dee9ff"/><stop offset="0.483" stop-color="#ffc5d8"/><stop offset="0.517" stop-color="#ff96a5"/><stop offset="0.552" stop-color="#ff7582"/><stop offset="0.586" stop-color="#ff5d67"/><stop offset="0.621" stop-color="#ff4a53"/><stop offset="0.655" stop-color="#ff3b43"/><stop offset="0.690" stop-color="#ff2f35"/><stop offset="0.724" stop-color="#ff252a"/><stop offset="0.759" stop-color="#ff1c21"/><stop offset="0.793" stop-color="#ff1519"/><stop offset="0.828" stop-color="#ff0f12"/><stop offset="0.862" stop-color="#ff090c"/><stop offset="0.897" stop-color="#ff0407"/><stop offset="0.931" stop-color="#ff0002"/><stop offset="0.966" stop-color="#ff0000"/><stop offset="1.000" stop-color="#ff0000"/></linearGradient><linearGradient id="g48" gradientUnits="userSpaceOnUse" x1="468.9" y1="0" x2="586.3" y2="0"><stop offset="0.000" stop-color="#00e1ff"/><stop offset="0.033" stop-color="#00e0ff"/><stop offset="0.067" stop-color="#00e0ff"/><stop offset="0.100" stop-color="#00dfff"/><stop offset="0.133" stop-color="#00deff"/><stop offset="0.167" stop-color="#00ddff"/><stop offset="0.200" stop-color="#00dcff"/><stop offset="0.233" stop-color="#00dbff"/><stop offset="0.267" stop-color="#00daff"/><stop offset="0.300" stop-color="#00d9ff"/><stop offset="0.333" stop-color="#27d8ff"/><stop offset="0.367" stop-color="#5ad6ff"/><stop offset="0.400" stop-color="#92d4ff"/><stop offset="0.433" stop-color="#d2d2ff"/><stop offset="0.467" stop-color="#ffbce6"/><stop offset="0.500" stop-color="#ff8fb2"/><stop offset="0.533" stop-color="#ff708d"/><stop offset="0.567" stop-color="#ff5871"/><stop offset="0.600" stop-color="#ff465c"/><stop offset="0.633" stop-color="#ff384b"/><stop offset="0.667" stop-color="#ff2c3d"/><stop offset="0.700" stop-color="#ff2231"/><stop offset="0.733" stop-color="#ff1a27"/><stop offset="0.767" stop-color="#ff131f"/><stop offset="0.800" stop-color="#ff0c18"/><stop offset="0.833" stop-color="#ff0712"/><stop offset="0.867" stop-color="#ff020c"/><stop offset="0.900" stop-color="#ff0007"/><stop offset="0.933" stop-color="#ff0003"/><stop offset="0.967" stop-color="#ff0000"/><stop offset="1.000" stop-color="#ff0000"/></linearGradient><linearGradient id="g49" gradientUnits="userSpaceOnUse" x1="469.3" y1="0" x2="588.2" y2="0"><stop offset="0.000" stop-color="#00d4ff"/><stop offset="0.033" stop-color="#00d4ff"/><stop offset="0.067" stop-color="#00d3ff"/><stop offset="0.100" stop-color="#00d1ff"/><stop offset="0.133" stop-color="#00d0ff"/><stop offset="0.167" stop-color="#00ceff"/><stop offset="0.200" stop-color="#00cdff"/><stop offset="0.233" stop-color="#00cbff"/><stop offset="0.267" stop-color="#00c9ff"/><stop offset="0.300" stop-color="#0ac7ff"/><stop offset="0.333" stop-color="#38c5ff"/><stop offset="0.367" stop-color="#6bc2ff"/><stop offset="0.400" stop-color="#a4bfff"/><stop offset="0.433" stop-color="#e4bcff"/><stop offset="0.467" stop-color="#ff9cd8"/><stop offset="0.500" stop-color="#ff78a9"/><stop offset="0.533" stop-color="#ff5d87"/><stop offset="0.567" stop-color="#ff496d"/><stop offset="0.600" stop-color="#ff3959"/><stop offset="0.633" stop-color="#ff2c49"/><stop offset="0.667" stop-color="#ff223c"/><stop offset="0.700" stop-color="#ff1931"/><stop offset="0.733" stop-color="#ff1227"/><stop offset="0.767" stop-color="#ff0b1f"/><stop offset="0.800" stop-color="#ff0618"/><stop offset="0.833" stop-color="#ff0112"/><stop offset="0.867" stop-color="#ff000c"/><stop offset="0.900" stop-color="#ff0007"/><stop offset="0.933" stop-color="#ff0003"/><stop offset="0.967" stop-color="#ff0000"/><stop offset="1.000" stop-color="#ff0000"/></linearGradient><linearGradient id="g50" gradientUnits="userSpaceOnUse" x1="469.7" y1="0" x2="590.1" y2="0"><stop offset="0.000" stop-color="#00c8ff"/><stop offset="0.032" stop-color="#00c7ff"/><stop offset="0.065" stop-color="#00c6ff"/><stop offset="0.097" stop-color="#00c4ff"/><stop offset="0.129" stop-color="#00c2ff"/><stop offset="0.161" stop-color="#00c1ff"/><stop offset="0.194" stop-color="#00beff"/><stop offset="0.226" stop-color="#00bcff"/><stop offset="0.258" stop-color="#00baff"/><stop offset="0.290" stop-color="#0db7ff"/><stop offset="0.323" stop-color="#38b4ff"/><stop offset="0.355" stop-color="#68b1ff"/><stop offset="0.387" stop-color="#9dadff"/><stop offset="0.419" stop-color="#d9a9ff"/><stop offset="0.452" stop-color="#ff93e5"/><stop offset="0.484" stop-color="#ff70b4"/><stop offset="0.516" stop-color="#ff5791"/><stop offset="0.548" stop-color="#ff4476"/><stop offset="0.581" stop-color="#ff3562"/><stop offset="0.613" stop-color="#ff2851"/><stop offset="0.645" stop-color="#ff1e43"/><stop offset="0.677" stop-color="#ff1637"/><stop offset="0.710" stop-color="#ff0f2d"/><stop offset="0.742" stop-color="#ff0925"/><stop offset="0.774" stop-color="#ff031d"/><stop offset="0.806" stop-color="#ff0017"/><stop offset="0.839" stop-color="#ff0011"/><stop offset="0.871" stop-color="#ff000c"/><stop offset="0.903" stop-color="#ff0007"/><stop offset="0.935" stop-color="#ff0003"/><stop offset="0.968" stop-color="#ff0000"/><stop offset="1.000" stop-color="#ff0000"/></linearGradient><linearGradient id="g51" gradientUnits="userSpaceOnUse" x1="470.2" y1="0" x2="592.0" y2="0"><stop offset="0.000" stop-color="#00bdff"/><stop offset="0.032" stop-color="#00bcff"/><stop offset="0.065" stop-color="#00baff"/><stop offset="0.097" stop-color="#00b8ff"/><stop offset="0.129" stop-color="#00b5ff"/><stop offset="0.161" stop-color="#00b3ff"/><stop offset="0.194" stop-color="#00b0ff"/><stop offset="0.226" stop-color="#00adff"/><stop offset="0.258" stop-color="#00aaff"/><stop offset="0.290" stop-color="#1ca7ff"/><stop offset="0.323" stop-color="#48a3ff"/><stop offset="0.355" stop-color="#789fff"/><stop offset="0.387" stop-color="#ae9aff"/><stop offset="0.419" stop-color="#ea95ff"/><stop offset="0.452" stop-color="#ff79d7"/><stop offset="0.484" stop-color="#ff5cac"/><stop offset="0.516" stop-color="#ff468b"/><stop offset="0.548" stop-color="#ff3673"/><stop offset="0.581" stop-color="#ff295f"/><stop offset="0.613" stop-color="#ff1e4f"/><stop offset="0.645" stop-color="#ff1541"/><stop offset="0.677" stop-color="#ff0e36"/><stop offset="0.710" stop-color="#ff082d"/><stop offset="0.742" stop-color="#ff0225"/><stop offset="0.774" stop-color="#ff001d"/><stop offset="0.806" stop-color="#ff0017"/><stop offset="0.839" stop-color="#ff0011"/><stop offset="0.871" stop-color="#ff000c"/><stop offset="0.903" stop-color="#ff0008"/><stop offset="0.935" stop-color="#ff0004"/><stop offset="0.968" stop-color="#ff0000"/><stop offset="1.000" stop-color="#ff0000"/></linearGradient><linearGradient id="g52" gradientUnits="userSpaceOnUse" x1="470.6" y1="0" x2="594.0" y2="0"><stop offset="0.000" stop-color="#00b1ff"/><stop offset="0.032" stop-color="#00b0ff"/><stop offset="0.065" stop-color="#00aeff"/><stop offset="0.097" stop-color="#00abff"/><stop offset="0.129" stop-color="#00a8ff"/><stop offset="0.161" stop-color="#00a6ff"/><stop offset="0.194" stop-color="#00a2ff"/><stop offset="0.226" stop-color="#009fff"/><stop offset="0.258" stop-color="#029bff"/><stop offset="0.290" stop-color="#2b97ff"/><stop offset="0.323" stop-color="#5792ff"/><stop offset="0.355" stop-color="#888dff"/><stop offset="0.387" stop-color="#be88ff"/><stop offset="0.419" stop-color="#fb82ff"/><stop offset="0.452" stop-color="#ff62cc"/><stop offset="0.484" stop-color="#ff4aa4"/><stop offset="0.516" stop-color="#ff3786"/><stop offset="0.548" stop-color="#ff296f"/><stop offset="0.581" stop-color="#ff1e5c"/><stop offset="0.613" stop-color="#ff154d"/><stop offset="0.645" stop-color="#ff0d40"/><stop offset="0.677" stop-color="#ff0636"/><stop offset="0.710" stop-color="#ff012c"/><stop offset="0.742" stop-color="#ff0024"/><stop offset="0.774" stop-color="#ff001d"/><stop offset="0.806" stop-color="#ff0017"/><stop offset="0.839" stop-color="#ff0012"/><stop offset="0.871" stop-color="#ff000d"/><stop offset="0.903" stop-color="#ff0008"/><stop offset="0.935" stop-color="#ff0004"/><stop offset="0.968" stop-color="#ff0001"/><stop offset="1.000" stop-color="#ff0000"/></linearGradient><linearGradient id="g53" gradientUnits="userSpaceOnUse" x1="471.1" y1="0" x2="592.9" y2="0"><stop offset="0.000" stop-color="#00a6ff"/><stop offset="0.032" stop-color="#00a5ff"/><stop offset="0.065" stop-color="#00a2ff"/><stop offset="0.097" stop-color="#00a0ff"/><stop offset="0.129" stop-color="#009cff"/><stop offset="0.161" stop-color="#0099ff"/><stop offset="0.194" stop-color="#0096ff"/><stop offset="0.226" stop-color="#0092ff"/><stop offset="0.258" stop-color="#098dff"/><stop offset="0.290" stop-color="#3089ff"/><stop offset="0.323" stop-color="#5a84ff"/><stop offset="0.355" stop-color="#897eff"/><stop offset="0.387" stop-color="#bd78ff"/><stop offset="0.419" stop-color="#f771ff"/><stop offset="0.452" stop-color="#ff57d1"/><stop offset="0.484" stop-color="#ff41a9"/><stop offset="0.516" stop-color="#ff308b"/><stop offset="0.548" stop-color="#ff2374"/><stop offset="0.581" stop-color="#ff1861"/><stop offset="0.613" stop-color="#ff1052"/><stop offset="0.645" stop-color="#ff0845"/><stop offset="0.677" stop-color="#ff023a"/><stop offset="0.710" stop-color="#ff0030"/><stop offset="0.742" stop-color="#ff0028"/><stop offset="0.774" stop-color="#ff0021"/><stop offset="0.806" stop-color="#ff001b"/><stop offset="0.839" stop-color="#ff0015"/><stop offset="0.871" stop-color="#ff0010"/><stop offset="0.903" stop-color="#ff000b"/><stop offset="0.935" stop-color="#ff0007"/><stop offset="0.968" stop-color="#ff0004"/><stop offset="1.000" stop-color="#ff0002"/></linearGradient><linearGradient id="g54" gradientUnits="userSpaceOnUse" x1="471.6" y1="0" x2="588.8" y2="0"><stop offset="0.000" stop-color="#009cff"/><stop offset="0.033" stop-color="#009aff"/><stop offset="0.067" stop-color="#0097ff"/><stop offset="0.100" stop-color="#0094ff"/><stop offset="0.133" stop-color="#0091ff"/><stop offset="0.167" stop-color="#008dff"/><stop offset="0.200" stop-color="#0089ff"/><stop offset="0.233" stop-color="#0085ff"/><stop offset="0.267" stop-color="#1180ff"/><stop offset="0.300" stop-color="#377bff"/><stop offset="0.333" stop-color="#6176ff"/><stop offset="0.367" stop-color="#8f70ff"/><stop offset="0.400" stop-color="#c169ff"/><stop offset="0.433" stop-color="#f962ff"/><stop offset="0.467" stop-color="#ff49d1"/><stop offset="0.500" stop-color="#ff36ab"/><stop offset="0.533" stop-color="#ff278e"/><stop offset="0.567" stop-color="#ff1b77"/><stop offset="0.600" stop-color="#ff1164"/><stop offset="0.633" stop-color="#ff0a55"/><stop offset="0.667" stop-color="#ff0348"/><stop offset="0.700" stop-color="#ff003d"/><stop offset="0.733" stop-color="#ff0033"/><stop offset="0.767" stop-color="#ff002b"/><stop offset="0.800" stop-color="#ff0024"/><stop offset="0.833" stop-color="#ff001d"/><stop offset="0.867" stop-color="#ff0018"/><stop offset="0.900" stop-color="#ff0012"/><stop offset="0.933" stop-color="#ff000e"/><stop offset="0.967" stop-color="#ff000a"/><stop offset="1.000" stop-color="#ff0007"/></linearGradient><linearGradient id="g55" gradientUnits="userSpaceOnUse" x1="472.0" y1="0" x2="584.7" y2="0"><stop offset="0.000" stop-color="#0092ff"/><stop offset="0.034" stop-color="#0090ff"/><stop offset="0.069" stop-color="#008dff"/><stop offset="0.103" stop-color="#0089ff"/><stop offset="0.138" stop-color="#0086ff"/><stop offset="0.172" stop-color="#0082ff"/><stop offset="0.207" stop-color="#007dff"/><stop offset="0.241" stop-color="#0079ff"/><stop offset="0.276" stop-color="#1974ff"/><stop offset="0.310" stop-color="#3e6eff"/><stop offset="0.345" stop-color="#6768ff"/><stop offset="0.379" stop-color="#9462ff"/><stop offset="0.414" stop-color="#c55bff"/><stop offset="0.448" stop-color="#fb53ff"/><stop offset="0.483" stop-color="#ff3dd1"/><stop offset="0.517" stop-color="#ff2bac"/><stop offset="0.552" stop-color="#ff1e90"/><stop offset="0.586" stop-color="#ff1479"/><stop offset="0.621" stop-color="#ff0b67"/><stop offset="0.655" stop-color="#ff0457"/><stop offset="0.690" stop-color="#ff004a"/><stop offset="0.724" stop-color="#ff003f"/><stop offset="0.759" stop-color="#ff0036"/><stop offset="0.793" stop-color="#ff002e"/><stop offset="0.828" stop-color="#ff0026"/><stop offset="0.862" stop-color="#ff0020"/><stop offset="0.897" stop-color="#ff001a"/><stop offset="0.931" stop-color="#ff0015"/><stop offset="0.966" stop-color="#ff0010"/><stop offset="1.000" stop-color="#ff000e"/></linearGradient><linearGradient id="g56" gradientUnits="userSpaceOnUse" x1="472.5" y1="0" x2="580.6" y2="0"><stop offset="0.000" stop-color="#0088ff"/><stop offset="0.036" stop-color="#0086ff"/><stop offset="0.071" stop-color="#0082ff"/><stop offset="0.107" stop-color="#007fff"/><stop offset="0.143" stop-color="#007bff"/><stop offset="0.179" stop-color="#0076ff"/><stop offset="0.214" stop-color="#0072ff"/><stop offset="0.250" stop-color="#006dff"/><stop offset="0.286" stop-color="#2068ff"/><stop offset="0.321" stop-color="#4562ff"/><stop offset="0.357" stop-color="#6d5cff"/><stop offset="0.393" stop-color="#9855ff"/><stop offset="0.429" stop-color="#c84dff"/><stop offset="0.464" stop-color="#fc45ff"/><stop offset="0.500" stop-color="#ff31d2"/><stop offset="0.536" stop-color="#ff22ae"/><stop offset="0.571" stop-color="#ff1692"/><stop offset="0.607" stop-color="#ff0c7b"/><stop offset="0.643" stop-color="#ff0569"/><stop offset="0.679" stop-color="#ff005a"/><stop offset="0.714" stop-color="#ff004d"/><stop offset="0.750" stop-color="#ff0042"/><stop offset="0.786" stop-color="#ff0039"/><stop offset="0.821" stop-color="#ff0030"/><stop offset="0.857" stop-color="#ff0029"/><stop offset="0.893" stop-color="#ff0022"/><stop offset="0.929" stop-color="#ff001d"/><stop offset="0.964" stop-color="#ff0017"/><stop offset="1.000" stop-color="#ff0015"/></linearGradient><linearGradient id="g57" gradientUnits="userSpaceOnUse" x1="473.0" y1="0" x2="576.5" y2="0"><stop offset="0.000" stop-color="#007eff"/><stop offset="0.038" stop-color="#007cff"/><stop offset="0.077" stop-color="#0078ff"/><stop offset="0.115" stop-color="#0074ff"/><stop offset="0.154" stop-color="#0070ff"/><stop offset="0.192" stop-color="#006bff"/><stop offset="0.231" stop-color="#0066ff"/><stop offset="0.269" stop-color="#0f60ff"/><stop offset="0.308" stop-color="#325aff"/><stop offset="0.346" stop-color="#5854ff"/><stop offset="0.385" stop-color="#824dff"/><stop offset="0.423" stop-color="#af45ff"/><stop offset="0.462" stop-color="#e13dff"/><stop offset="0.500" stop-color="#ff2fe8"/><stop offset="0.538" stop-color="#ff1fbf"/><stop offset="0.577" stop-color="#ff129f"/><stop offset="0.615" stop-color="#ff0986"/><stop offset="0.654" stop-color="#ff0172"/><stop offset="0.692" stop-color="#ff0061"/><stop offset="0.731" stop-color="#ff0053"/><stop offset="0.769" stop-color="#ff0047"/><stop offset="0.808" stop-color="#ff003d"/><stop offset="0.846" stop-color="#ff0034"/><stop offset="0.885" stop-color="#ff002c"/><stop offset="0.923" stop-color="#ff0025"/><stop offset="0.962" stop-color="#ff001f"/><stop offset="1.000" stop-color="#ff001c"/></linearGradient><linearGradient id="g58" gradientUnits="userSpaceOnUse" x1="473.4" y1="0" x2="572.4" y2="0"><stop offset="0.000" stop-color="#0075ff"/><stop offset="0.040" stop-color="#0073ff"/><stop offset="0.080" stop-color="#006fff"/><stop offset="0.120" stop-color="#006aff"/><stop offset="0.160" stop-color="#0065ff"/><stop offset="0.200" stop-color="#0060ff"/><stop offset="0.240" stop-color="#005bff"/><stop offset="0.280" stop-color="#1655ff"/><stop offset="0.320" stop-color="#384fff"/><stop offset="0.360" stop-color="#5e48ff"/><stop offset="0.400" stop-color="#8741ff"/><stop offset="0.440" stop-color="#b339ff"/><stop offset="0.480" stop-color="#e330ff"/><stop offset="0.520" stop-color="#ff23e8"/><stop offset="0.560" stop-color="#ff15bf"/><stop offset="0.600" stop-color="#ff0aa1"/><stop offset="0.640" stop-color="#ff0288"/><stop offset="0.680" stop-color="#ff0074"/><stop offset="0.720" stop-color="#ff0064"/><stop offset="0.760" stop-color="#ff0056"/><stop offset="0.800" stop-color="#ff004a"/><stop offset="0.840" stop-color="#ff0040"/><stop offset="0.880" stop-color="#ff0037"/><stop offset="0.920" stop-color="#ff002f"/><stop offset="0.960" stop-color="#ff0028"/><stop offset="1.000" stop-color="#ff0024"/></linearGradient><linearGradient id="g59" gradientUnits="userSpaceOnUse" x1="474.0" y1="0" x2="568.3" y2="0"><stop offset="0.000" stop-color="#006cff"/><stop offset="0.042" stop-color="#0069ff"/><stop offset="0.083" stop-color="#0065ff"/><stop offset="0.125" stop-color="#0061ff"/><stop offset="0.167" stop-color="#005cff"/><stop offset="0.208" stop-color="#0056ff"/><stop offset="0.250" stop-color="#0051ff"/><stop offset="0.292" stop-color="#1d4bff"/><stop offset="0.333" stop-color="#3f44ff"/><stop offset="0.375" stop-color="#643dff"/><stop offset="0.417" stop-color="#8c36ff"/><stop offset="0.458" stop-color="#b72dff"/><stop offset="0.500" stop-color="#e625ff"/><stop offset="0.542" stop-color="#ff18e7"/><stop offset="0.583" stop-color="#ff0cc0"/><stop offset="0.625" stop-color="#ff02a2"/><stop offset="0.667" stop-color="#ff008a"/><stop offset="0.708" stop-color="#ff0076"/><stop offset="0.750" stop-color="#ff0066"/><stop offset="0.792" stop-color="#ff0058"/><stop offset="0.833" stop-color="#ff004c"/><stop offset="0.875" stop-color="#ff0042"/><stop offset="0.917" stop-color="#ff0039"/><stop offset="0.958" stop-color="#ff0031"/><stop offset="1.000" stop-color="#ff002d"/></linearGradient><linearGradient id="g60" gradientUnits="userSpaceOnUse" x1="474.6" y1="0" x2="564.2" y2="0"><stop offset="0.000" stop-color="#0063ff"/><stop offset="0.043" stop-color="#0060ff"/><stop offset="0.087" stop-color="#005cff"/><stop offset="0.130" stop-color="#0057ff"/><stop offset="0.174" stop-color="#0052ff"/><stop offset="0.217" stop-color="#004dff"/><stop offset="0.261" stop-color="#0647ff"/><stop offset="0.304" stop-color="#2541ff"/><stop offset="0.348" stop-color="#463aff"/><stop offset="0.391" stop-color="#6a33ff"/><stop offset="0.435" stop-color="#902bff"/><stop offset="0.478" stop-color="#ba23ff"/><stop offset="0.522" stop-color="#e819ff"/><stop offset="0.565" stop-color="#ff0ee6"/><stop offset="0.609" stop-color="#ff03c1"/><stop offset="0.652" stop-color="#ff00a4"/><stop offset="0.696" stop-color="#ff008c"/><stop offset="0.739" stop-color="#ff0079"/><stop offset="0.783" stop-color="#ff0069"/><stop offset="0.826" stop-color="#ff005b"/><stop offset="0.870" stop-color="#ff004f"/><stop offset="0.913" stop-color="#ff0045"/><stop offset="0.957" stop-color="#ff003c"/><stop offset="1.000" stop-color="#ff0038"/></linearGradient><linearGradient id="g61" gradientUnits="userSpaceOnUse" x1="475.3" y1="0" x2="560.1" y2="0"><stop offset="0.000" stop-color="#005aff"/><stop offset="0.045" stop-color="#0058ff"/><stop offset="0.091" stop-color="#0053ff"/><stop offset="0.136" stop-color="#004eff"/><stop offset="0.182" stop-color="#0049ff"/><stop offset="0.227" stop-color="#0043ff"/><stop offset="0.273" stop-color="#0d3dff"/><stop offset="0.318" stop-color="#2c37ff"/><stop offset="0.364" stop-color="#4c30ff"/><stop offset="0.409" stop-color="#6f29ff"/><stop offset="0.455" stop-color="#9521ff"/><stop offset="0.500" stop-color="#be18ff"/><stop offset="0.545" stop-color="#ea0fff"/><stop offset="0.591" stop-color="#ff04e6"/><stop offset="0.636" stop-color="#ff00c2"/><stop offset="0.682" stop-color="#ff00a6"/><stop offset="0.727" stop-color="#ff008e"/><stop offset="0.773" stop-color="#ff007b"/><stop offset="0.818" stop-color="#ff006b"/><stop offset="0.864" stop-color="#ff005e"/><stop offset="0.909" stop-color="#ff0052"/><stop offset="0.955" stop-color="#ff0048"/><stop offset="1.000" stop-color="#ff0043"/></linearGradient><linearGradient id="g62" gradientUnits="userSpaceOnUse" x1="475.9" y1="0" x2="556.0" y2="0"><stop offset="0.000" stop-color="#0051ff"/><stop offset="0.048" stop-color="#004fff"/><stop offset="0.095" stop-color="#004aff"/><stop offset="0.143" stop-color="#0045ff"/><stop offset="0.190" stop-color="#0040ff"/><stop offset="0.238" stop-color="#003aff"/><stop offset="0.286" stop-color="#1434ff"/><stop offset="0.333" stop-color="#322dff"/><stop offset="0.381" stop-color="#5226ff"/><stop offset="0.429" stop-color="#741fff"/><stop offset="0.476" stop-color="#9917ff"/><stop offset="0.524" stop-color="#c00eff"/><stop offset="0.571" stop-color="#eb05ff"/><stop offset="0.619" stop-color="#ff00e7"/><stop offset="0.667" stop-color="#ff00c4"/><stop offset="0.714" stop-color="#ff00a8"/><stop offset="0.762" stop-color="#ff0091"/><stop offset="0.810" stop-color="#ff007e"/><stop offset="0.857" stop-color="#ff006e"/><stop offset="0.905" stop-color="#ff0061"/><stop offset="0.952" stop-color="#ff0055"/><stop offset="1.000" stop-color="#ff004f"/></linearGradient><linearGradient id="g63" gradientUnits="userSpaceOnUse" x1="476.5" y1="0" x2="551.9" y2="0"><stop offset="0.000" stop-color="#0049ff"/><stop offset="0.053" stop-color="#0046ff"/><stop offset="0.105" stop-color="#0041ff"/><stop offset="0.158" stop-color="#003cff"/><stop offset="0.211" stop-color="#0036ff"/><stop offset="0.263" stop-color="#0730ff"/><stop offset="0.316" stop-color="#2429ff"/><stop offset="0.368" stop-color="#4322ff"/><stop offset="0.421" stop-color="#651aff"/><stop offset="0.474" stop-color="#8912ff"/><stop offset="0.526" stop-color="#b009ff"/><stop offset="0.579" stop-color="#da00ff"/><stop offset="0.632" stop-color="#ff00f7"/><stop offset="0.684" stop-color="#ff00cf"/><stop offset="0.737" stop-color="#ff00b1"/><stop offset="0.789" stop-color="#ff0098"/><stop offset="0.842" stop-color="#ff0084"/><stop offset="0.895" stop-color="#ff0073"/><stop offset="0.947" stop-color="#ff0064"/><stop offset="1.000" stop-color="#ff005d"/></linearGradient><linearGradient id="g64" gradientUnits="userSpaceOnUse" x1="477.2" y1="0" x2="547.8" y2="0"><stop offset="0.000" stop-color="#0041ff"/><stop offset="0.056" stop-color="#003eff"/><stop offset="0.111" stop-color="#0039ff"/><stop offset="0.167" stop-color="#0033ff"/><stop offset="0.222" stop-color="#002dff"/><stop offset="0.278" stop-color="#0e27ff"/><stop offset="0.333" stop-color="#2b20ff"/><stop offset="0.389" stop-color="#4919ff"/><stop offset="0.444" stop-color="#6a11ff"/><stop offset="0.500" stop-color="#8d09ff"/><stop offset="0.556" stop-color="#b300ff"/><stop offset="0.611" stop-color="#dc00ff"/><stop offset="0.667" stop-color="#ff00f6"/><stop offset="0.722" stop-color="#ff00d0"/><stop offset="0.778" stop-color="#ff00b2"/><stop offset="0.833" stop-color="#ff009a"/><stop offset="0.889" stop-color="#ff0086"/><stop offset="0.944" stop-color="#ff0075"/><stop offset="1.000" stop-color="#ff006d"/></linearGradient><linearGradient id="g65" gradientUnits="userSpaceOnUse" x1="477.8" y1="0" x2="543.7" y2="0"><stop offset="0.000" stop-color="#0039ff"/><stop offset="0.059" stop-color="#0036ff"/><stop offset="0.118" stop-color="#0031ff"/><stop offset="0.176" stop-color="#002bff"/><stop offset="0.235" stop-color="#0025ff"/><stop offset="0.294" stop-color="#151fff"/><stop offset="0.353" stop-color="#3118ff"/><stop offset="0.412" stop-color="#4f11ff"/><stop offset="0.471" stop-color="#6f09ff"/><stop offset="0.529" stop-color="#9101ff"/><stop offset="0.588" stop-color="#b600ff"/><stop offset="0.647" stop-color="#dd00ff"/><stop offset="0.706" stop-color="#ff00f6"/><stop offset="0.765" stop-color="#ff00d2"/><stop offset="0.824" stop-color="#ff00b4"/><stop offset="0.882" stop-color="#ff009d"/><stop offset="0.941" stop-color="#ff0089"/><stop offset="1.000" stop-color="#ff0080"/></linearGradient><linearGradient id="g66" gradientUnits="userSpaceOnUse" x1="478.6" y1="0" x2="539.6" y2="0"><stop offset="0.000" stop-color="#0031ff"/><stop offset="0.062" stop-color="#002eff"/><stop offset="0.125" stop-color="#0029ff"/><stop offset="0.188" stop-color="#0023ff"/><stop offset="0.250" stop-color="#021dff"/><stop offset="0.312" stop-color="#1c17ff"/><stop offset="0.375" stop-color="#3710ff"/><stop offset="0.438" stop-color="#5409ff"/><stop offset="0.500" stop-color="#7301ff"/><stop offset="0.562" stop-color="#9400ff"/><stop offset="0.625" stop-color="#b800ff"/><stop offset="0.688" stop-color="#de00ff"/><stop offset="0.750" stop-color="#ff00f7"/><stop offset="0.812" stop-color="#ff00d4"/><stop offset="0.875" stop-color="#ff00b7"/><stop offset="0.938" stop-color="#ff00a0"/><stop offset="1.000" stop-color="#ff0095"/></linearGradient><linearGradient id="g67" gradientUnits="userSpaceOnUse" x1="479.3" y1="0" x2="535.5" y2="0"><stop offset="0.000" stop-color="#0029ff"/><stop offset="0.067" stop-color="#0027ff"/><stop offset="0.133" stop-color="#0021ff"/><stop offset="0.200" stop-color="#001bff"/><stop offset="0.267" stop-color="#0915ff"/><stop offset="0.333" stop-color="#220fff"/><stop offset="0.400" stop-color="#3d08ff"/><stop offset="0.467" stop-color="#5901ff"/><stop offset="0.533" stop-color="#7700ff"/><stop offset="0.600" stop-color="#9700ff"/><stop offset="0.667" stop-color="#b900ff"/><stop offset="0.733" stop-color="#de00ff"/><stop offset="0.800" stop-color="#ff00f9"/><stop offset="0.867" stop-color="#ff00d6"/><stop offset="0.933" stop-color="#ff00ba"/><stop offset="1.000" stop-color="#ff00ae"/></linearGradient><linearGradient id="g68" gradientUnits="userSpaceOnUse" x1="480.1" y1="0" x2="531.4" y2="0"><stop offset="0.000" stop-color="#0022ff"/><stop offset="0.077" stop-color="#001fff"/><stop offset="0.154" stop-color="#0019ff"/><stop offset="0.231" stop-color="#0013ff"/><stop offset="0.308" stop-color="#170cff"/><stop offset="0.385" stop-color="#3205ff"/><stop offset="0.462" stop-color="#4e00ff"/><stop offset="0.538" stop-color="#6d00ff"/><stop offset="0.615" stop-color="#8d00ff"/><stop offset="0.692" stop-color="#af00ff"/><stop offset="0.769" stop-color="#d500ff"/><stop offset="0.846" stop-color="#fc00ff"/><stop offset="0.923" stop-color="#ff00dc"/><stop offset="1.000" stop-color="#ff00cb"/></linearGradient><linearGradient id="g69" gradientUnits="userSpaceOnUse" x1="480.8" y1="0" x2="527.3" y2="0"><stop offset="0.000" stop-color="#001bff"/><stop offset="0.083" stop-color="#0017ff"/><stop offset="0.167" stop-color="#0012ff"/><stop offset="0.250" stop-color="#050bff"/><stop offset="0.333" stop-color="#1e05ff"/><stop offset="0.417" stop-color="#3800ff"/><stop offset="0.500" stop-color="#5300ff"/><stop offset="0.583" stop-color="#7100ff"/><stop offset="0.667" stop-color="#9000ff"/><stop offset="0.750" stop-color="#b100ff"/><stop offset="0.833" stop-color="#d500ff"/><stop offset="0.917" stop-color="#fb00ff"/><stop offset="1.000" stop-color="#ff00ef"/></linearGradient><linearGradient id="g70" gradientUnits="userSpaceOnUse" x1="481.8" y1="0" x2="523.2" y2="0"><stop offset="0.000" stop-color="#0013ff"/><stop offset="0.091" stop-color="#0010ff"/><stop offset="0.182" stop-color="#000aff"/><stop offset="0.273" stop-color="#0c04ff"/><stop offset="0.364" stop-color="#2400ff"/><stop offset="0.455" stop-color="#3d00ff"/><stop offset="0.545" stop-color="#5800ff"/><stop offset="0.636" stop-color="#7400ff"/><stop offset="0.727" stop-color="#9200ff"/><stop offset="0.818" stop-color="#b200ff"/><stop offset="0.909" stop-color="#d400ff"/><stop offset="1.000" stop-color="#e600ff"/></linearGradient><linearGradient id="g71" gradientUnits="userSpaceOnUse" x1="482.7" y1="0" x2="519.1" y2="0"><stop offset="0.000" stop-color="#000cff"/><stop offset="0.100" stop-color="#0009ff"/><stop offset="0.200" stop-color="#0003ff"/><stop offset="0.300" stop-color="#1300ff"/><stop offset="0.400" stop-color="#2a00ff"/><stop offset="0.500" stop-color="#4200ff"/><stop offset="0.600" stop-color="#5c00ff"/><stop offset="0.700" stop-color="#7600ff"/><stop offset="0.800" stop-color="#9300ff"/><stop offset="0.900" stop-color="#b100ff"/><stop offset="1.000" stop-color="#c100ff"/></linearGradient><linearGradient id="g72" gradientUnits="userSpaceOnUse" x1="483.7" y1="0" x2="515.0" y2="0"><stop offset="0.000" stop-color="#0004ff"/><stop offset="0.125" stop-color="#0001ff"/><stop offset="0.250" stop-color="#0a00ff"/><stop offset="0.375" stop-color="#2200ff"/><stop offset="0.500" stop-color="#3b00ff"/><stop offset="0.625" stop-color="#5500ff"/><stop offset="0.750" stop-color="#7100ff"/><stop offset="0.875" stop-color="#8f00ff"/><stop offset="1.000" stop-color="#9f00ff"/></linearGradient><linearGradient id="g73" gradientUnits="userSpaceOnUse" x1="484.9" y1="0" x2="510.9" y2="0"><stop offset="0.000" stop-color="#0000ff"/><stop offset="0.143" stop-color="#0000ff"/><stop offset="0.286" stop-color="#1200ff"/><stop offset="0.429" stop-color="#2900ff"/><stop offset="0.571" stop-color="#4000ff"/><stop offset="0.714" stop-color="#5900ff"/><stop offset="0.857" stop-color="#7300ff"/><stop offset="1.000" stop-color="#8100ff"/></linearGradient><linearGradient id="g74" gradientUnits="userSpaceOnUse" x1="486.3" y1="0" x2="506.8" y2="0"><stop offset="0.000" stop-color="#0000ff"/><stop offset="0.167" stop-color="#0700ff"/><stop offset="0.333" stop-color="#1a00ff"/><stop offset="0.500" stop-color="#2f00ff"/><stop offset="0.667" stop-color="#4400ff"/><stop offset="0.833" stop-color="#5a00ff"/><stop offset="1.000" stop-color="#6600ff"/></linearGradient><linearGradient id="g75" gradientUnits="userSpaceOnUse" x1="488.1" y1="0" x2="502.7" y2="0"><stop offset="0.000" stop-color="#0b00ff"/><stop offset="0.250" stop-color="#1500ff"/><stop offset="0.500" stop-color="#2b00ff"/><stop offset="0.750" stop-color="#4100ff"/><stop offset="1.000" stop-color="#4d00ff"/></linearGradient><linearGradient id="g76" gradientUnits="userSpaceOnUse" x1="490.2" y1="0" x2="498.6" y2="0"><stop offset="0.000" stop-color="#1a00ff"/><stop offset="0.333" stop-color="#1f00ff"/><stop offset="0.667" stop-color="#3000ff"/><stop offset="1.000" stop-color="#3600ff"/></linearGradient>
<clipPath id="loc"><path d="M493.90,737.57 L493.42,737.55 L492.18,736.47 L490.80,735.20 L488.56,732.96 L487.05,731.05 L485.03,727.71 L482.45,722.30 L479.21,713.74 L475.19,701.05 L471.06,683.45 L467.17,661.49 L464.46,638.03 L463.69,616.31 L465.47,598.51 L469.90,586.98 L476.19,582.91 L483.27,584.33 L490.46,588.12 L497.24,592.65 L503.75,597.75 L510.18,603.35 L516.53,609.32 L522.87,615.55 L529.23,621.97 L535.54,628.48 L541.83,634.99 L547.99,641.43 L553.97,647.70 L559.70,653.71 L565.10,659.34 L570.01,664.51 L574.29,668.99 L581.18,676.18 L585.74,680.97 L588.65,684.01 L590.62,686.08 L593.41,689.00 Z"/></clipPath>
</defs>

<!-- chart -->
<g stroke="#d9d9d9" stroke-width="1"><line x1="50.5" y1="283.40" x2="590" y2="283.40"/><line x1="50.5" y1="260.80" x2="590" y2="260.80"/><line x1="50.5" y1="238.20" x2="590" y2="238.20"/><line x1="50.5" y1="215.60" x2="590" y2="215.60"/><line x1="50.5" y1="193.00" x2="590" y2="193.00"/><line x1="50.5" y1="170.40" x2="590" y2="170.40"/><line x1="50.5" y1="147.80" x2="590" y2="147.80"/><line x1="50.5" y1="125.20" x2="590" y2="125.20"/><line x1="50.5" y1="102.60" x2="590" y2="102.60"/><line x1="50.5" y1="80.00" x2="590" y2="80.00"/><line x1="117.94" y1="79.8" x2="117.94" y2="305.5"/><line x1="185.38" y1="79.8" x2="185.38" y2="305.5"/><line x1="252.82" y1="79.8" x2="252.82" y2="305.5"/><line x1="320.26" y1="79.8" x2="320.26" y2="305.5"/><line x1="387.70" y1="79.8" x2="387.70" y2="305.5"/><line x1="455.14" y1="79.8" x2="455.14" y2="305.5"/><line x1="522.58" y1="79.8" x2="522.58" y2="305.5"/><line x1="590.02" y1="79.8" x2="590.02" y2="305.5"/></g>
<path d="M50.5,305.3 C57.0,305.3 82.5,305.4 89.8,305.3 C97.0,305.2 92.5,305.2 94.0,304.8 C95.5,304.4 97.3,303.8 98.8,303.2 C100.3,302.6 101.5,302.2 102.8,301.5 C104.1,300.8 105.3,300.1 106.5,299.2 C107.7,298.3 109.0,297.0 110.0,296.0 C111.0,295.0 111.8,294.2 112.7,293.1 C113.6,292.0 114.4,290.9 115.2,289.6 C116.0,288.3 116.6,287.0 117.3,285.4 C118.0,283.8 118.8,281.9 119.6,279.8 C120.4,277.8 121.2,275.3 121.9,273.1 C122.6,270.9 123.0,268.8 123.5,266.5 C124.0,264.2 124.4,262.4 125.0,259.2 C125.6,255.9 126.5,251.4 127.2,247.0 C127.9,242.6 128.5,237.7 129.2,232.9 C129.8,228.1 130.5,222.9 131.1,218.0 C131.7,213.1 132.3,208.7 132.9,203.4 C133.5,198.1 134.2,191.8 134.8,186.0 C135.4,180.2 136.0,174.6 136.6,168.9 C137.2,163.2 137.9,157.3 138.5,152.0 C139.1,146.7 139.7,141.7 140.3,136.9 C140.9,132.1 141.6,127.2 142.3,123.0 C143.0,118.8 144.1,113.7 144.5,111.8 C145.7,114.4 150.7,125.0 151.9,127.6 C152.2,130.4 153.1,139.1 153.8,144.3 C154.5,149.5 155.5,154.1 156.3,159.0 C157.1,163.9 158.0,168.8 158.8,173.8 C159.6,178.8 160.5,184.1 161.3,189.0 C162.1,193.9 162.9,199.1 163.7,203.4 C164.5,207.7 165.3,211.3 166.1,215.0 C166.9,218.7 167.7,222.0 168.6,225.5 C169.5,229.0 170.6,232.7 171.6,236.0 C172.6,239.3 173.8,242.5 174.8,245.2 C175.8,247.9 176.8,249.9 177.8,252.0 C178.8,254.1 179.6,255.8 180.9,257.5 C182.2,259.2 184.0,261.1 185.8,262.0 C187.7,262.9 189.5,263.1 192.0,263.0 C194.5,262.9 198.2,261.9 200.6,261.2 C203.0,260.5 204.4,259.6 206.5,258.8 C208.6,258.0 210.2,257.1 212.9,256.3 C215.6,255.5 218.7,254.3 222.8,253.8 C226.9,253.3 231.2,253.3 237.5,253.1 C243.8,252.9 251.8,252.7 260.8,252.5 C269.8,252.3 283.3,252.0 291.5,252.2 C299.7,252.4 304.8,253.0 310.0,253.6 C315.2,254.2 318.4,255.2 323.0,256.0 C327.6,256.8 333.4,257.7 337.7,258.5 C342.0,259.3 345.4,260.1 349.0,261.0 C352.6,261.9 356.0,263.0 359.2,264.0 C362.4,265.0 364.9,266.0 368.0,267.2 C371.1,268.4 374.5,269.8 377.7,271.2 C380.9,272.6 383.9,274.2 387.0,275.6 C390.1,277.0 393.1,278.3 396.2,279.6 C399.3,280.9 402.4,282.2 405.5,283.4 C408.6,284.6 411.9,285.8 414.6,286.8 C417.4,287.8 419.3,288.5 422.0,289.4 C424.7,290.3 428.1,291.4 430.8,292.2 C433.5,293.0 435.5,293.7 438.0,294.4 C440.5,295.1 442.1,295.6 446.0,296.4 C449.9,297.2 456.3,298.6 461.5,299.4 C466.7,300.2 471.9,300.7 477.0,301.1 C482.1,301.5 487.2,301.6 492.3,301.9 C497.4,302.2 502.6,302.6 507.7,303.0 C512.8,303.4 515.3,303.7 523.0,304.0 C530.7,304.3 542.8,304.8 553.8,305.0 C564.8,305.2 583.1,305.4 589.0,305.5 L589,305.5 L50.5,305.5 Z" fill="url(#spec)"/>
<path d="M50.5,305.3 C57.0,305.3 82.5,305.4 89.8,305.3 C97.0,305.2 92.5,305.2 94.0,304.8 C95.5,304.4 97.3,303.8 98.8,303.2 C100.3,302.6 101.5,302.2 102.8,301.5 C104.1,300.8 105.3,300.1 106.5,299.2 C107.7,298.3 109.0,297.0 110.0,296.0 C111.0,295.0 111.8,294.2 112.7,293.1 C113.6,292.0 114.4,290.9 115.2,289.6 C116.0,288.3 116.6,287.0 117.3,285.4 C118.0,283.8 118.8,281.9 119.6,279.8 C120.4,277.8 121.2,275.3 121.9,273.1 C122.6,270.9 123.0,268.8 123.5,266.5 C124.0,264.2 124.4,262.4 125.0,259.2 C125.6,255.9 126.5,251.4 127.2,247.0 C127.9,242.6 128.5,237.7 129.2,232.9 C129.8,228.1 130.5,222.9 131.1,218.0 C131.7,213.1 132.3,208.7 132.9,203.4 C133.5,198.1 134.2,191.8 134.8,186.0 C135.4,180.2 136.0,174.6 136.6,168.9 C137.2,163.2 137.9,157.3 138.5,152.0 C139.1,146.7 139.7,141.7 140.3,136.9 C140.9,132.1 141.6,127.2 142.3,123.0 C143.0,118.8 144.1,113.7 144.5,111.8 C145.7,114.4 150.7,125.0 151.9,127.6 C152.2,130.4 153.1,139.1 153.8,144.3 C154.5,149.5 155.5,154.1 156.3,159.0 C157.1,163.9 158.0,168.8 158.8,173.8 C159.6,178.8 160.5,184.1 161.3,189.0 C162.1,193.9 162.9,199.1 163.7,203.4 C164.5,207.7 165.3,211.3 166.1,215.0 C166.9,218.7 167.7,222.0 168.6,225.5 C169.5,229.0 170.6,232.7 171.6,236.0 C172.6,239.3 173.8,242.5 174.8,245.2 C175.8,247.9 176.8,249.9 177.8,252.0 C178.8,254.1 179.6,255.8 180.9,257.5 C182.2,259.2 184.0,261.1 185.8,262.0 C187.7,262.9 189.5,263.1 192.0,263.0 C194.5,262.9 198.2,261.9 200.6,261.2 C203.0,260.5 204.4,259.6 206.5,258.8 C208.6,258.0 210.2,257.1 212.9,256.3 C215.6,255.5 218.7,254.3 222.8,253.8 C226.9,253.3 231.2,253.3 237.5,253.1 C243.8,252.9 251.8,252.7 260.8,252.5 C269.8,252.3 283.3,252.0 291.5,252.2 C299.7,252.4 304.8,253.0 310.0,253.6 C315.2,254.2 318.4,255.2 323.0,256.0 C327.6,256.8 333.4,257.7 337.7,258.5 C342.0,259.3 345.4,260.1 349.0,261.0 C352.6,261.9 356.0,263.0 359.2,264.0 C362.4,265.0 364.9,266.0 368.0,267.2 C371.1,268.4 374.5,269.8 377.7,271.2 C380.9,272.6 383.9,274.2 387.0,275.6 C390.1,277.0 393.1,278.3 396.2,279.6 C399.3,280.9 402.4,282.2 405.5,283.4 C408.6,284.6 411.9,285.8 414.6,286.8 C417.4,287.8 419.3,288.5 422.0,289.4 C424.7,290.3 428.1,291.4 430.8,292.2 C433.5,293.0 435.5,293.7 438.0,294.4 C440.5,295.1 442.1,295.6 446.0,296.4 C449.9,297.2 456.3,298.6 461.5,299.4 C466.7,300.2 471.9,300.7 477.0,301.1 C482.1,301.5 487.2,301.6 492.3,301.9 C497.4,302.2 502.6,302.6 507.7,303.0 C512.8,303.4 515.3,303.7 523.0,304.0 C530.7,304.3 542.8,304.8 553.8,305.0 C564.8,305.2 583.1,305.4 589.0,305.5" fill="none" stroke="#000" stroke-width="1.2"/>
<line x1="50.5" y1="79.8" x2="50.5" y2="305.5" stroke="#bfbfbf" stroke-width="1"/>
<line x1="50.5" y1="305.5" x2="590" y2="305.5" stroke="#bfbfbf" stroke-width="1"/>
<line x1="57" y1="305.3" x2="90" y2="305.3" stroke="#222" stroke-width="0.9"/>
<line x1="90" y1="79.8" x2="90" y2="305.5" stroke="#cc2a2a" stroke-width="1.3"/>
<line x1="493.9" y1="79.8" x2="493.9" y2="305.5" stroke="#cc2a2a" stroke-width="1.3"/>
<line x1="91" y1="86.5" x2="276" y2="86.5" stroke="#dc2028" stroke-width="1.5" stroke-dasharray="3.2,1.5"/>
<line x1="320.8" y1="86.5" x2="493" y2="86.5" stroke="#dc2028" stroke-width="1.5" stroke-dasharray="3.2,1.5"/>
<g class="r" font-size="10"><text x="39.7" y="309.9">0</text><text x="39.7" y="287.3">2</text><text x="39.7" y="264.7">4</text><text x="39.7" y="242.1">6</text><text x="39.7" y="219.5">8</text><text x="39.7" y="196.9" textLength="10.4" lengthAdjust="spacingAndGlyphs">10</text><text x="39.7" y="174.3" textLength="10.4" lengthAdjust="spacingAndGlyphs">12</text><text x="39.7" y="151.7" textLength="10.4" lengthAdjust="spacingAndGlyphs">14</text><text x="39.7" y="129.1" textLength="10.4" lengthAdjust="spacingAndGlyphs">16</text><text x="39.7" y="106.5" textLength="10.4" lengthAdjust="spacingAndGlyphs">18</text><text x="39.7" y="83.9" textLength="10.4" lengthAdjust="spacingAndGlyphs">20</text></g>
<g class="c" font-size="10"><text x="50.5" y="323.9" style="fill:#595959" textLength="16" lengthAdjust="spacingAndGlyphs">380</text><text x="88.8" y="323.9" style="fill:#e01c24" textLength="16" lengthAdjust="spacingAndGlyphs">400</text><text x="117.6" y="323.9" style="fill:#595959" textLength="16" lengthAdjust="spacingAndGlyphs">430</text><text x="185.0" y="323.9" style="fill:#595959" textLength="16" lengthAdjust="spacingAndGlyphs">480</text><text x="252.4" y="323.9" style="fill:#595959" textLength="16" lengthAdjust="spacingAndGlyphs">530</text><text x="320.0" y="323.9" style="fill:#595959" textLength="16" lengthAdjust="spacingAndGlyphs">580</text><text x="387.4" y="323.9" style="fill:#595959" textLength="16" lengthAdjust="spacingAndGlyphs">630</text><text x="454.9" y="323.9" style="fill:#595959" textLength="16" lengthAdjust="spacingAndGlyphs">680</text><text x="493.4" y="323.9" style="fill:#e01c24" textLength="16" lengthAdjust="spacingAndGlyphs">700</text><text x="522.4" y="323.9" style="fill:#595959" textLength="16" lengthAdjust="spacingAndGlyphs">730</text><text x="589.6" y="323.9" style="fill:#595959" textLength="16" lengthAdjust="spacingAndGlyphs">780</text></g>

<!-- boxes -->
<g fill="#f2f2f2" stroke="#2e83de" stroke-width="1.5">
<rect x="28.75" y="355.25" width="176.5" height="97.6"/>
<rect x="28.75" y="481.95" width="176.5" height="40.8"/>
<rect x="28.75" y="538.15" width="176.5" height="40.6"/>
<rect x="28.75" y="594.15" width="176.5" height="40.8"/>
<rect x="28.75" y="664.25" width="176.5" height="40.8"/>
<rect x="28.75" y="720.25" width="176.5" height="41.4"/>
<rect x="235.25" y="355.55" width="176.7" height="41.5"/>
<rect x="235.25" y="411.85" width="176.7" height="40.9"/>
<rect x="235.25" y="482.35" width="176.7" height="194.9"/>
<rect x="235.25" y="720.15" width="176.7" height="40.8"/>
</g>

<!-- CCT -->
<rect x="31.5" y="397.2" width="170.7" height="34.3" fill="url(#cct)"/>
<path d="M51,434.7 L57.3,433.2 L57.3,436.2 Z" fill="#595959"/>
<path d="M115.7,432.6 L118.2,437.4 L113.2,437.4 Z" fill="#595959"/>
<path d="M200,434.7 L193.8,433.2 L193.8,436.2 Z" fill="#595959"/>

<!-- left column -->

<!-- middle column -->

<rect x="309.5" y="566.3" width="58.3" height="82.6" fill="none" stroke="#d02c2c" stroke-width="2"/>
<line x1="292.9" y1="685" x2="340.3" y2="685" stroke="#f4a4a4" stroke-width="1.6"/>


<!-- texts -->
<text class="b" x="48.1" y="15.3" font-size="11.20" textLength="51.5" lengthAdjust="spacingAndGlyphs">ArtikelNr.:</text>
<text class="b" x="130.4" y="15.3" font-size="11.20" textLength="48.8" lengthAdjust="spacingAndGlyphs">AG-LED20</text>
<text class="b" x="237.4" y="15.4" font-size="11.20" textLength="37.2" lengthAdjust="spacingAndGlyphs">Artikel:</text>
<text class="b" x="297.7" y="15.2" font-size="15.40" textLength="118.5" lengthAdjust="spacingAndGlyphs">20cm-6500K-24V</text>
<text x="31.1" y="59.8" font-size="10.30" textLength="58.8" lengthAdjust="spacingAndGlyphs">mW/m²/nm</text>
<text class="b" x="286.9" y="91.8" font-size="11.80" textLength="21.3" lengthAdjust="spacingAndGlyphs" style="fill:#e02828">PAR</text>
<text x="600.5" y="302.8" font-size="10.50" textLength="22.2" lengthAdjust="spacingAndGlyphs">[nm]</text>
<text class="b" x="47.9" y="366.1" font-size="10.80" textLength="139.4" lengthAdjust="spacingAndGlyphs">Ähnl. Farbtemperatur (CCT)</text>
<text x="88.4" y="389.6" font-size="17.50" textLength="58.7" lengthAdjust="spacingAndGlyphs">6.500 K</text>
<text x="31.2" y="450.8" font-size="10.20" textLength="43.3" lengthAdjust="spacingAndGlyphs">&gt;20.000 K</text>
<text x="101.2" y="450.8" font-size="10.20" textLength="33.1" lengthAdjust="spacingAndGlyphs">6.000 K</text>
<text x="165.4" y="450.8" font-size="10.20" textLength="37.6" lengthAdjust="spacingAndGlyphs">&lt;1.600 K</text>
<text class="b" x="250.8" y="366.1" font-size="10.80" textLength="147.1" lengthAdjust="spacingAndGlyphs">Farbwiedergabeindex CRI, Ra</text>
<text x="307.6" y="390.5" font-size="17.50" textLength="32.7" lengthAdjust="spacingAndGlyphs">89,3</text>
<text class="b" x="262.7" y="422.9" font-size="10.80" textLength="123.3" lengthAdjust="spacingAndGlyphs">PAR / PPFD [µmol/m²s]*</text>
<text x="315.3" y="446.4" font-size="17.50" textLength="18.0" lengthAdjust="spacingAndGlyphs">22</text>
<text class="i" x="312.3" y="464.6" font-size="10.50" textLength="95.4" lengthAdjust="spacingAndGlyphs">*Messabstand: 30 cm</text>
<text class="b" x="69.0" y="491.6" font-size="10.80" textLength="96.9" lengthAdjust="spacingAndGlyphs">Lichtstrom (Lumen)</text>
<text x="91.2" y="516.0" font-size="17.50" textLength="52.6" lengthAdjust="spacingAndGlyphs">574 lm</text>
<text class="b" x="61.8" y="547.9" font-size="10.80" textLength="111.6" lengthAdjust="spacingAndGlyphs">Systemleistung (Watt)</text>
<text x="102.2" y="571.4" font-size="17.50" textLength="30.5" lengthAdjust="spacingAndGlyphs">6 W</text>
<text class="b" x="59.9" y="604.4" font-size="10.80" textLength="115.5" lengthAdjust="spacingAndGlyphs">Effizienz (Lumen/Watt)</text>
<text x="84.2" y="628.0" font-size="17.50" textLength="67.1" lengthAdjust="spacingAndGlyphs">96 lm/W</text>
<text class="b" x="57.1" y="674.4" font-size="10.80" textLength="121.3" lengthAdjust="spacingAndGlyphs">Dominante Wellenlänge</text>
<text x="88.4" y="698.2" font-size="17.50" textLength="58.2" lengthAdjust="spacingAndGlyphs">472 nm</text>
<text class="b" x="72.9" y="729.8" font-size="10.80" textLength="89.4" lengthAdjust="spacingAndGlyphs">Peak Wellenlänge</text>
<text x="88.4" y="753.6" font-size="17.50" textLength="58.2" lengthAdjust="spacingAndGlyphs">451 nm</text>
<text class="b" x="262.7" y="492.5" font-size="10.80" textLength="123.3" lengthAdjust="spacingAndGlyphs">PAR / PPFD [µmol/m²s]*</text>
<text x="312.0" y="523.5" font-size="17.50" textLength="24.0" lengthAdjust="spacingAndGlyphs">5,6</text>
<text class="b" x="250.8" y="555.3" font-size="10.30" textLength="42.9" lengthAdjust="spacingAndGlyphs">PPFD UV</text>
<text x="325.9" y="555.3" font-size="12.50" textLength="25.4" lengthAdjust="spacingAndGlyphs">0,01</text>
<text class="b" x="247.5" y="583.0" font-size="10.30" textLength="50.4" lengthAdjust="spacingAndGlyphs">PPFD Blau</text>
<text class="b" x="245.5" y="611.2" font-size="10.30" textLength="53.8" lengthAdjust="spacingAndGlyphs">PPFD Grün</text>
<text class="b" x="249.4" y="639.0" font-size="10.30" textLength="45.7" lengthAdjust="spacingAndGlyphs">PPFD Rot</text>
<text class="b" x="251.0" y="666.6" font-size="10.30" textLength="43.0" lengthAdjust="spacingAndGlyphs">PPFD UR</text>
<text x="330.0" y="583.5" font-size="12.50" textLength="18.0" lengthAdjust="spacingAndGlyphs">2,2</text>
<text x="330.0" y="611.5" font-size="12.50" textLength="18.0" lengthAdjust="spacingAndGlyphs">2,2</text>
<text x="330.0" y="639.5" font-size="12.50" textLength="17.2" lengthAdjust="spacingAndGlyphs">1,1</text>
<text x="330.0" y="667.5" font-size="12.50" textLength="17.2" lengthAdjust="spacingAndGlyphs">0,1</text>
<text x="379.6" y="583.5" font-size="10.30" textLength="21.0" lengthAdjust="spacingAndGlyphs">40%</text>
<text x="379.6" y="611.5" font-size="10.30" textLength="21.0" lengthAdjust="spacingAndGlyphs">40%</text>
<text x="379.6" y="639.5" font-size="10.30" textLength="21.0" lengthAdjust="spacingAndGlyphs">20%</text>
<text class="i" x="355.0" y="689.0" font-size="10.40" textLength="52.6" lengthAdjust="spacingAndGlyphs">PAR Bereich</text>
<text class="i" x="312.3" y="702.8" font-size="10.50" textLength="95.9" lengthAdjust="spacingAndGlyphs">*Messabstand: 75 cm</text>
<text class="b" x="292.6" y="730.2" font-size="10.80" textLength="63.4" lengthAdjust="spacingAndGlyphs">PPE [µmol/J]</text>
<text x="313.1" y="753.8" font-size="17.50" textLength="23.0" lengthAdjust="spacingAndGlyphs">1,6</text>
<text class="i" x="31.1" y="847.8" font-size="10.60" textLength="585.5" lengthAdjust="spacingAndGlyphs" xml:space="preserve">Die Lichtmessung des Produkts erfolgte  in trockener Umgebung und bei 100% Leistung. Die Verwendung von fokussierenden Linsen,</text>
<text class="i" x="31.1" y="863.0" font-size="10.60" textLength="550.9" lengthAdjust="spacingAndGlyphs">Schutzabdeckungen oder Reflektoren kann zu abweichenden Ergebnissen führen. Zudem kann es chargenbedingt zu leichten</text>
<text class="i" x="31.1" y="876.8" font-size="10.60" textLength="239.3" lengthAdjust="spacingAndGlyphs">Abweichungen im Vergleich zum Prüfmuster kommen.</text>
<text x="600.9" y="376.4" font-size="12.50" textLength="18.6" lengthAdjust="spacingAndGlyphs">CRI</text>
<text x="573.8" y="586.0" font-size="12.20" textLength="47.5" lengthAdjust="spacingAndGlyphs">CIE1931</text>
<text class="b" x="31.1" y="793.3" font-size="10.2" textLength="17.7" lengthAdjust="spacingAndGlyphs">PAR</text>
<text x="52.0" y="793.3" font-size="10.4" textLength="155.7" lengthAdjust="spacingAndGlyphs">- Photosynthetisch aktive Strahlung</text>
<text class="b" x="31.1" y="806.8" font-size="10.2" textLength="16.1" lengthAdjust="spacingAndGlyphs">PPE</text>
<text x="50.5" y="806.8" font-size="10.4" textLength="290.2" lengthAdjust="spacingAndGlyphs">- Photosynthetischer Photonenfluss pro Watt elektrischer Energie</text>
<text class="b" x="31.1" y="820.3" font-size="10.2" textLength="22.7" lengthAdjust="spacingAndGlyphs">PPFD</text>
<text x="57.0" y="820.3" font-size="10.4" textLength="181.2" lengthAdjust="spacingAndGlyphs">- Photosynthetische Photonenflussdichte</text>
<!-- CRI wheel -->
<g stroke="none"><path d="M533.90,447.70 L521.30,384.34 A64.60,64.60 0 0 1 546.50,384.34 Z" fill="#c6c6c6"/><path d="M533.90,447.70 L546.50,384.34 A64.60,64.60 0 0 1 569.79,393.99 Z" fill="#e6aab4"/><path d="M533.90,447.70 L569.79,393.99 A64.60,64.60 0 0 1 587.61,411.81 Z" fill="#c8a878"/><path d="M533.90,447.70 L587.61,411.81 A64.60,64.60 0 0 1 597.26,435.10 Z" fill="#a8c35e"/><path d="M533.90,447.70 L597.26,435.10 A64.60,64.60 0 0 1 597.26,460.30 Z" fill="#72c6a0"/><path d="M533.90,447.70 L597.26,460.30 A64.60,64.60 0 0 1 587.61,483.59 Z" fill="#6eb8de"/><path d="M533.90,447.70 L587.61,483.59 A64.60,64.60 0 0 1 569.79,501.41 Z" fill="#88a8ee"/><path d="M533.90,447.70 L569.79,501.41 A64.60,64.60 0 0 1 546.50,511.06 Z" fill="#c2a2f0"/><path d="M533.90,447.70 L546.50,511.06 A64.60,64.60 0 0 1 521.30,511.06 Z" fill="#e8a2e8"/><path d="M533.90,447.70 L521.30,511.06 A64.60,64.60 0 0 1 498.01,501.41 Z" fill="#e0203e"/><path d="M533.90,447.70 L498.01,501.41 A64.60,64.60 0 0 1 480.19,483.59 Z" fill="#f8f030"/><path d="M533.90,447.70 L480.19,483.59 A64.60,64.60 0 0 1 470.54,460.30 Z" fill="#12a07e"/><path d="M533.90,447.70 L470.54,460.30 A64.60,64.60 0 0 1 470.54,435.10 Z" fill="#1050c8"/><path d="M533.90,447.70 L470.54,435.10 A64.60,64.60 0 0 1 480.19,411.81 Z" fill="#fae2d4"/><path d="M533.90,447.70 L480.19,411.81 A64.60,64.60 0 0 1 498.01,393.99 Z" fill="#64824a"/><path d="M533.90,447.70 L498.01,393.99 A64.60,64.60 0 0 1 521.30,384.34 Z" fill="#e8a8ac"/></g>
<g fill="none" stroke="#1a1a1a" stroke-width="0.95"><circle cx="533.90" cy="447.70" r="6.46"/><circle cx="533.90" cy="447.70" r="12.92"/><circle cx="533.90" cy="447.70" r="19.38"/><circle cx="533.90" cy="447.70" r="25.84"/><circle cx="533.90" cy="447.70" r="32.30"/><circle cx="533.90" cy="447.70" r="38.76"/><circle cx="533.90" cy="447.70" r="45.22"/><circle cx="533.90" cy="447.70" r="51.68"/><circle cx="533.90" cy="447.70" r="58.14"/></g>
<g stroke="#111" stroke-width="1"><line x1="533.90" y1="447.70" x2="521.30" y2="384.34"/><line x1="533.90" y1="447.70" x2="546.50" y2="384.34"/><line x1="533.90" y1="447.70" x2="569.79" y2="393.99"/><line x1="533.90" y1="447.70" x2="587.61" y2="411.81"/><line x1="533.90" y1="447.70" x2="597.26" y2="435.10"/><line x1="533.90" y1="447.70" x2="597.26" y2="460.30"/><line x1="533.90" y1="447.70" x2="587.61" y2="483.59"/><line x1="533.90" y1="447.70" x2="569.79" y2="501.41"/><line x1="533.90" y1="447.70" x2="546.50" y2="511.06"/><line x1="533.90" y1="447.70" x2="521.30" y2="511.06"/><line x1="533.90" y1="447.70" x2="498.01" y2="501.41"/><line x1="533.90" y1="447.70" x2="480.19" y2="483.59"/><line x1="533.90" y1="447.70" x2="470.54" y2="460.30"/><line x1="533.90" y1="447.70" x2="470.54" y2="435.10"/><line x1="533.90" y1="447.70" x2="480.19" y2="411.81"/><line x1="533.90" y1="447.70" x2="498.01" y2="393.99"/></g>
<circle cx="533.90" cy="447.70" r="64.60" fill="none" stroke="#111" stroke-width="1.4"/>
<circle cx="533.90" cy="447.70" r="2.2" fill="#000"/>
<polygon points="533.90,388.60 556.94,392.08 577.95,403.65 589.70,424.59 593.70,447.70 587.85,470.05 573.36,487.16 556.94,503.32 533.90,503.10 520.58,479.85 495.86,485.74 478.93,470.47 496.70,447.70 477.08,424.16 489.49,403.29 510.52,391.25" fill="none" stroke="#fff" stroke-width="2"/>
<g fill="#d8283c" stroke="#f6dada" stroke-width="0.6"><circle cx="533.90" cy="388.60" r="1.6"/><circle cx="556.94" cy="392.08" r="1.6"/><circle cx="577.95" cy="403.65" r="1.6"/><circle cx="589.70" cy="424.59" r="1.6"/><circle cx="593.70" cy="447.70" r="1.6"/><circle cx="587.85" cy="470.05" r="1.6"/><circle cx="573.36" cy="487.16" r="1.6"/><circle cx="556.94" cy="503.32" r="1.6"/><circle cx="533.90" cy="503.10" r="1.6"/><circle cx="520.58" cy="479.85" r="1.6"/><circle cx="495.86" cy="485.74" r="1.6"/><circle cx="478.93" cy="470.47" r="1.6"/><circle cx="496.70" cy="447.70" r="1.6"/><circle cx="477.08" cy="424.16" r="1.6"/><circle cx="489.49" cy="403.29" r="1.6"/><circle cx="510.52" cy="391.25" r="1.6"/></g>
<g class="c" font-size="9.3"><text x="534.0" y="374.7" textLength="10.4" lengthAdjust="spacingAndGlyphs">Ra</text><text x="566.0" y="387.8" textLength="10.4" lengthAdjust="spacingAndGlyphs">R1</text><text x="588.1" y="403.0" textLength="10.4" lengthAdjust="spacingAndGlyphs">R2</text><text x="603.1" y="425.0" textLength="10.4" lengthAdjust="spacingAndGlyphs">R3</text><text x="608.4" y="450.6" textLength="10.4" lengthAdjust="spacingAndGlyphs">R4</text><text x="603.1" y="476.5" textLength="10.4" lengthAdjust="spacingAndGlyphs">R5</text><text x="588.4" y="498.8" textLength="10.4" lengthAdjust="spacingAndGlyphs">R6</text><text x="565.6" y="513.7" textLength="10.4" lengthAdjust="spacingAndGlyphs">R7</text><text x="534.0" y="526.3" textLength="10.4" lengthAdjust="spacingAndGlyphs">R8</text><text x="502.3" y="513.7" textLength="10.4" lengthAdjust="spacingAndGlyphs">R9</text><text x="477.3" y="498.8" textLength="16.2" lengthAdjust="spacingAndGlyphs">R10</text><text x="462.6" y="476.5" textLength="16.2" lengthAdjust="spacingAndGlyphs">R11</text><text x="457.3" y="450.5" textLength="16.2" lengthAdjust="spacingAndGlyphs">R12</text><text x="462.8" y="424.8" textLength="16.2" lengthAdjust="spacingAndGlyphs">R13</text><text x="477.3" y="402.7" textLength="16.2" lengthAdjust="spacingAndGlyphs">R14</text><text x="499.6" y="387.8" textLength="16.2" lengthAdjust="spacingAndGlyphs">R15</text></g>

<!-- CIE -->
<g stroke="#efefef" stroke-width="1"><line x1="463.00" y1="580" x2="463.00" y2="738.5"/><line x1="480.75" y1="580" x2="480.75" y2="738.5"/><line x1="498.50" y1="580" x2="498.50" y2="738.5"/><line x1="516.25" y1="580" x2="516.25" y2="738.5"/><line x1="534.00" y1="580" x2="534.00" y2="738.5"/><line x1="551.75" y1="580" x2="551.75" y2="738.5"/><line x1="569.50" y1="580" x2="569.50" y2="738.5"/><line x1="587.25" y1="580" x2="587.25" y2="738.5"/><line x1="605.00" y1="580" x2="605.00" y2="738.5"/><line x1="463" y1="738.50" x2="613" y2="738.50"/><line x1="463" y1="719.84" x2="613" y2="719.84"/><line x1="463" y1="701.18" x2="613" y2="701.18"/><line x1="463" y1="682.52" x2="613" y2="682.52"/><line x1="463" y1="663.86" x2="613" y2="663.86"/><line x1="463" y1="645.20" x2="613" y2="645.20"/><line x1="463" y1="626.54" x2="613" y2="626.54"/><line x1="463" y1="607.88" x2="613" y2="607.88"/><line x1="463" y1="589.22" x2="613" y2="589.22"/><line x1="463" y1="738.5" x2="613" y2="738.5" stroke="#d9d9d9"/></g>
<g clip-path="url(#loc)"><g filter="url(#cblur)"><rect x="473.0" y="583.0" width="10.1" height="2.05" fill="url(#g0)"/><rect x="469.9" y="585.0" width="18.0" height="2.05" fill="url(#g1)"/><rect x="468.0" y="587.0" width="23.7" height="2.05" fill="url(#g2)"/><rect x="467.2" y="589.0" width="27.5" height="2.05" fill="url(#g3)"/><rect x="466.5" y="591.0" width="31.3" height="2.05" fill="url(#g4)"/><rect x="465.7" y="593.0" width="34.8" height="2.05" fill="url(#g5)"/><rect x="464.9" y="595.0" width="38.1" height="2.05" fill="url(#g6)"/><rect x="464.2" y="597.0" width="41.4" height="2.05" fill="url(#g7)"/><rect x="463.8" y="599.0" width="44.0" height="2.05" fill="url(#g8)"/><rect x="463.6" y="601.0" width="46.5" height="2.05" fill="url(#g9)"/><rect x="463.4" y="603.0" width="49.0" height="2.05" fill="url(#g10)"/><rect x="463.2" y="605.0" width="51.3" height="2.05" fill="url(#g11)"/><rect x="463.0" y="607.0" width="53.6" height="2.05" fill="url(#g12)"/><rect x="462.8" y="609.0" width="55.9" height="2.05" fill="url(#g13)"/><rect x="462.6" y="611.0" width="58.1" height="2.05" fill="url(#g14)"/><rect x="462.4" y="613.0" width="60.4" height="2.05" fill="url(#g15)"/><rect x="462.2" y="615.0" width="62.6" height="2.05" fill="url(#g16)"/><rect x="462.3" y="617.0" width="64.5" height="2.05" fill="url(#g17)"/><rect x="462.3" y="619.0" width="66.5" height="2.05" fill="url(#g18)"/><rect x="462.4" y="621.0" width="68.4" height="2.05" fill="url(#g19)"/><rect x="462.5" y="623.0" width="70.2" height="2.05" fill="url(#g20)"/><rect x="462.5" y="625.0" width="72.1" height="2.05" fill="url(#g21)"/><rect x="462.6" y="627.0" width="74.0" height="2.05" fill="url(#g22)"/><rect x="462.7" y="629.0" width="75.8" height="2.05" fill="url(#g23)"/><rect x="462.7" y="631.0" width="77.7" height="2.05" fill="url(#g24)"/><rect x="462.8" y="633.0" width="79.6" height="2.05" fill="url(#g25)"/><rect x="462.9" y="635.0" width="81.4" height="2.05" fill="url(#g26)"/><rect x="463.0" y="637.0" width="83.3" height="2.05" fill="url(#g27)"/><rect x="463.2" y="639.0" width="84.9" height="2.05" fill="url(#g28)"/><rect x="463.4" y="641.0" width="86.6" height="2.05" fill="url(#g29)"/><rect x="463.6" y="643.0" width="88.3" height="2.05" fill="url(#g30)"/><rect x="463.9" y="645.0" width="90.0" height="2.05" fill="url(#g31)"/><rect x="464.1" y="647.0" width="91.6" height="2.05" fill="url(#g32)"/><rect x="464.3" y="649.0" width="93.3" height="2.05" fill="url(#g33)"/><rect x="464.6" y="651.0" width="95.0" height="2.05" fill="url(#g34)"/><rect x="464.8" y="653.0" width="96.7" height="2.05" fill="url(#g35)"/><rect x="465.0" y="655.0" width="98.4" height="2.05" fill="url(#g36)"/><rect x="465.3" y="657.0" width="100.0" height="2.05" fill="url(#g37)"/><rect x="465.5" y="659.0" width="101.7" height="2.05" fill="url(#g38)"/><rect x="465.8" y="661.0" width="103.4" height="2.05" fill="url(#g39)"/><rect x="466.1" y="663.0" width="104.9" height="2.05" fill="url(#g40)"/><rect x="466.5" y="665.0" width="106.5" height="2.05" fill="url(#g41)"/><rect x="466.8" y="667.0" width="108.0" height="2.05" fill="url(#g42)"/><rect x="467.2" y="669.0" width="109.6" height="2.05" fill="url(#g43)"/><rect x="467.5" y="671.0" width="111.1" height="2.05" fill="url(#g44)"/><rect x="467.9" y="673.0" width="112.7" height="2.05" fill="url(#g45)"/><rect x="468.2" y="675.0" width="114.3" height="2.05" fill="url(#g46)"/><rect x="468.6" y="677.0" width="115.8" height="2.05" fill="url(#g47)"/><rect x="468.9" y="679.0" width="117.4" height="2.05" fill="url(#g48)"/><rect x="469.3" y="681.0" width="118.9" height="2.05" fill="url(#g49)"/><rect x="469.7" y="683.0" width="120.5" height="2.05" fill="url(#g50)"/><rect x="470.2" y="685.0" width="121.9" height="2.05" fill="url(#g51)"/><rect x="470.6" y="687.0" width="123.3" height="2.05" fill="url(#g52)"/><rect x="471.1" y="689.0" width="121.8" height="2.05" fill="url(#g53)"/><rect x="471.6" y="691.0" width="117.2" height="2.05" fill="url(#g54)"/><rect x="472.0" y="693.0" width="112.6" height="2.05" fill="url(#g55)"/><rect x="472.5" y="695.0" width="108.1" height="2.05" fill="url(#g56)"/><rect x="473.0" y="697.0" width="103.5" height="2.05" fill="url(#g57)"/><rect x="473.4" y="699.0" width="98.9" height="2.05" fill="url(#g58)"/><rect x="474.0" y="701.0" width="94.3" height="2.05" fill="url(#g59)"/><rect x="474.6" y="703.0" width="89.5" height="2.05" fill="url(#g60)"/><rect x="475.3" y="705.0" width="84.8" height="2.05" fill="url(#g61)"/><rect x="475.9" y="707.0" width="80.1" height="2.05" fill="url(#g62)"/><rect x="476.5" y="709.0" width="75.4" height="2.05" fill="url(#g63)"/><rect x="477.2" y="711.0" width="70.6" height="2.05" fill="url(#g64)"/><rect x="477.8" y="713.0" width="65.9" height="2.05" fill="url(#g65)"/><rect x="478.6" y="715.0" width="61.0" height="2.05" fill="url(#g66)"/><rect x="479.3" y="717.0" width="56.2" height="2.05" fill="url(#g67)"/><rect x="480.1" y="719.0" width="51.3" height="2.05" fill="url(#g68)"/><rect x="480.8" y="721.0" width="46.5" height="2.05" fill="url(#g69)"/><rect x="481.8" y="723.0" width="41.4" height="2.05" fill="url(#g70)"/><rect x="482.7" y="725.0" width="36.4" height="2.05" fill="url(#g71)"/><rect x="483.7" y="727.0" width="31.3" height="2.05" fill="url(#g72)"/><rect x="484.9" y="729.0" width="26.0" height="2.05" fill="url(#g73)"/><rect x="486.3" y="731.0" width="20.5" height="2.05" fill="url(#g74)"/><rect x="488.1" y="733.0" width="14.6" height="2.05" fill="url(#g75)"/><rect x="490.2" y="735.0" width="8.4" height="2.05" fill="url(#g76)"/></g></g>
<path id="planck" d="M506.2,694.3 C507.1,693.3 509.6,690.9 511.7,688.4 C513.8,685.9 516.4,682.2 518.5,679.5 C520.6,676.8 522.6,674.2 524.6,672.2 C526.6,670.2 528.8,668.7 530.8,667.2 C532.8,665.8 534.8,664.4 536.9,663.5 C539.0,662.6 541.0,662.1 543.1,661.7 C545.2,661.3 547.2,661.2 549.2,661.1 C551.2,661.0 553.4,661.1 555.4,661.3 C557.4,661.5 559.5,661.7 561.5,662.3 C563.5,662.9 565.7,663.8 567.7,664.8 C569.8,665.8 572.8,667.9 573.8,668.5" fill="none" stroke="#111" stroke-width="0.9"/>
<path d="M508.1,684.8 L515.3,692 M515.3,684.8 L508.1,692" stroke="#000" stroke-width="2"/>
<g class="r" font-size="10.2">
<text x="453.4" y="592.4">0,8</text>
<text x="453.4" y="630">0,6</text>
<text x="453.4" y="668.8">0,4</text>
<text x="453.4" y="706">0,2</text>
<text x="453.4" y="742">0</text>
</g>
<g class="c" font-size="10.2">
<text x="463" y="756.2">0</text>
<text x="498.5" y="756.2">0,2</text>
<text x="534" y="756.2">0,4</text>
<text x="570" y="756.2">0,6</text>
<text x="605.6" y="756.2">0,8</text>
</g>
<text class="c" x="466.5" y="578" font-size="11">y</text>
<text class="c" x="620.2" y="733" font-size="11">x</text>

<!-- footer -->
<line x1="0" y1="831" x2="649" y2="831" stroke="#3c8cd8" stroke-width="1.3"/>
</svg>

</body></html>
